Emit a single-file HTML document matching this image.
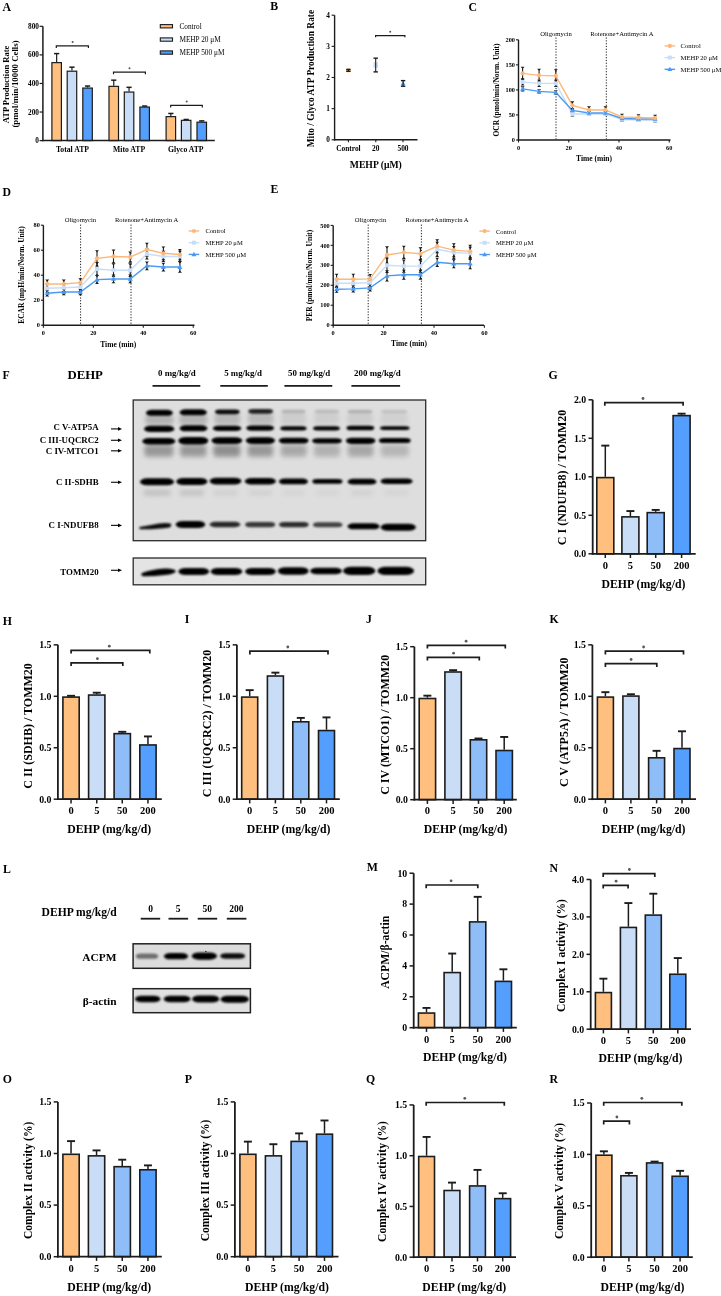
<!DOCTYPE html>
<html><head><meta charset="utf-8"><title>Figure</title>
<style>
html,body{margin:0;padding:0;background:#fff;}
svg{display:block;font-family:"Liberation Serif",serif;filter:blur(0.4px);}
</style></head><body>
<svg width="721" height="1296" viewBox="0 0 721 1296">
<defs>
<filter id="b1" x="-30%" y="-100%" width="160%" height="300%"><feGaussianBlur stdDeviation="0.85"/></filter>
<filter id="b2" x="-30%" y="-100%" width="160%" height="300%"><feGaussianBlur stdDeviation="2"/></filter>
<filter id="b4" x="-30%" y="-100%" width="160%" height="300%"><feGaussianBlur stdDeviation="4"/></filter>
<clipPath id="clipF"><rect x="133.2" y="400" width="292.5" height="140.7"/></clipPath>
<clipPath id="clipT"><rect x="133.2" y="558" width="292.5" height="26.8"/></clipPath>
<clipPath id="clipA"><rect x="133.1" y="943.8" width="117.3" height="24.5"/></clipPath>
<clipPath id="clipB"><rect x="133.1" y="988.7" width="117.3" height="24"/></clipPath>
</defs>
<rect width="721" height="1296" fill="#fff"/>
<text x="2.5" y="10.5" font-size="11.8" font-weight="bold" text-anchor="start" fill="#000">A</text>
<line x1="56.65" y1="62.03" x2="56.65" y2="53.6" stroke="#1c1c1c" stroke-width="1.2"/>
<line x1="54.05" y1="53.6" x2="59.25" y2="53.6" stroke="#1c1c1c" stroke-width="1.5"/>
<rect x="51.9" y="62.63" width="9.5" height="77.97" fill="#FFC07F" stroke="#1c1c1c" stroke-width="1.2"/>
<line x1="71.95" y1="70.6" x2="71.95" y2="67.18" stroke="#1c1c1c" stroke-width="1.2"/>
<line x1="69.35" y1="67.18" x2="74.55" y2="67.18" stroke="#1c1c1c" stroke-width="1.5"/>
<rect x="67.2" y="71.2" width="9.5" height="69.4" fill="#C9DDF7" stroke="#1c1c1c" stroke-width="1.2"/>
<line x1="87.55" y1="87.46" x2="87.55" y2="86.03" stroke="#1c1c1c" stroke-width="1.2"/>
<line x1="84.95" y1="86.03" x2="90.15" y2="86.03" stroke="#1c1c1c" stroke-width="1.5"/>
<rect x="82.8" y="88.06" width="9.5" height="52.54" fill="#549EFE" stroke="#1c1c1c" stroke-width="1.2"/>
<line x1="113.75" y1="85.75" x2="113.75" y2="80.17" stroke="#1c1c1c" stroke-width="1.2"/>
<line x1="111.15" y1="80.17" x2="116.35" y2="80.17" stroke="#1c1c1c" stroke-width="1.5"/>
<rect x="109" y="86.35" width="9.5" height="54.25" fill="#FFC07F" stroke="#1c1c1c" stroke-width="1.2"/>
<line x1="129.05" y1="91.46" x2="129.05" y2="87.32" stroke="#1c1c1c" stroke-width="1.2"/>
<line x1="126.45" y1="87.32" x2="131.65" y2="87.32" stroke="#1c1c1c" stroke-width="1.5"/>
<rect x="124.3" y="92.06" width="9.5" height="48.54" fill="#C9DDF7" stroke="#1c1c1c" stroke-width="1.2"/>
<line x1="144.65" y1="106.46" x2="144.65" y2="106.03" stroke="#1c1c1c" stroke-width="1.2"/>
<line x1="142.05" y1="106.03" x2="147.25" y2="106.03" stroke="#1c1c1c" stroke-width="1.5"/>
<rect x="139.9" y="107.06" width="9.5" height="33.54" fill="#549EFE" stroke="#1c1c1c" stroke-width="1.2"/>
<line x1="170.85" y1="116.03" x2="170.85" y2="113.46" stroke="#1c1c1c" stroke-width="1.2"/>
<line x1="168.25" y1="113.46" x2="173.45" y2="113.46" stroke="#1c1c1c" stroke-width="1.5"/>
<rect x="166.1" y="116.63" width="9.5" height="23.97" fill="#FFC07F" stroke="#1c1c1c" stroke-width="1.2"/>
<line x1="186.15" y1="119.74" x2="186.15" y2="119.46" stroke="#1c1c1c" stroke-width="1.2"/>
<line x1="183.55" y1="119.46" x2="188.75" y2="119.46" stroke="#1c1c1c" stroke-width="1.5"/>
<rect x="181.4" y="120.34" width="9.5" height="20.26" fill="#C9DDF7" stroke="#1c1c1c" stroke-width="1.2"/>
<line x1="201.75" y1="121.6" x2="201.75" y2="120.89" stroke="#1c1c1c" stroke-width="1.2"/>
<line x1="199.15" y1="120.89" x2="204.35" y2="120.89" stroke="#1c1c1c" stroke-width="1.5"/>
<rect x="197" y="122.2" width="9.5" height="18.4" fill="#549EFE" stroke="#1c1c1c" stroke-width="1.2"/>
<line x1="42.9" y1="26.3" x2="42.9" y2="141.3" stroke="#1c1c1c" stroke-width="1.5"/>
<line x1="42.2" y1="140.6" x2="214.8" y2="140.6" stroke="#1c1c1c" stroke-width="1.5"/>
<line x1="39.6" y1="140.6" x2="42.9" y2="140.6" stroke="#1c1c1c" stroke-width="1.2"/>
<text x="39" y="143.1" font-size="7.3" font-weight="bold" text-anchor="end" fill="#000">0</text>
<line x1="39.6" y1="112.03" x2="42.9" y2="112.03" stroke="#1c1c1c" stroke-width="1.2"/>
<text x="39" y="114.53" font-size="7.3" font-weight="bold" text-anchor="end" fill="#000">200</text>
<line x1="39.6" y1="83.46" x2="42.9" y2="83.46" stroke="#1c1c1c" stroke-width="1.2"/>
<text x="39" y="85.96" font-size="7.3" font-weight="bold" text-anchor="end" fill="#000">400</text>
<line x1="39.6" y1="54.89" x2="42.9" y2="54.89" stroke="#1c1c1c" stroke-width="1.2"/>
<text x="39" y="57.39" font-size="7.3" font-weight="bold" text-anchor="end" fill="#000">600</text>
<line x1="39.6" y1="26.32" x2="42.9" y2="26.32" stroke="#1c1c1c" stroke-width="1.2"/>
<text x="39" y="28.82" font-size="7.3" font-weight="bold" text-anchor="end" fill="#000">800</text>
<text x="72.5" y="151.6" font-size="7.7" font-weight="bold" text-anchor="middle" fill="#000">Total ATP</text>
<text x="129.1" y="151.6" font-size="7.7" font-weight="bold" text-anchor="middle" fill="#000">Mito ATP</text>
<text x="185.8" y="151.6" font-size="7.7" font-weight="bold" text-anchor="middle" fill="#000">Glyco ATP</text>
<text transform="translate(8.6,84.5) rotate(-90)" font-size="8.5" font-weight="bold" text-anchor="middle" fill="#000">ATP Production Rate</text>
<text transform="translate(18.3,84) rotate(-90)" font-size="8.8" font-weight="bold" text-anchor="middle" fill="#000">(pmol/min/10000 Cells)</text>
<path d="M56.3 48.1L56.3 45.9L88.4 45.9L88.4 48.1" fill="none" stroke="#1c1c1c" stroke-width="1.2"/>
<circle cx="72.6" cy="42.1" r="1.0" fill="#555"/>
<path d="M113.5 74.3L113.5 72.1L145.4 72.1L145.4 74.3" fill="none" stroke="#1c1c1c" stroke-width="1.2"/>
<circle cx="129.5" cy="68.3" r="1.0" fill="#555"/>
<path d="M170.7 107.6L170.7 105.4L202.3 105.4L202.3 107.6" fill="none" stroke="#1c1c1c" stroke-width="1.2"/>
<circle cx="186.7" cy="101.6" r="1.0" fill="#555"/>
<rect x="160.3" y="24.6" width="12.2" height="3.3" fill="#FFC07F" stroke="#1c1c1c" stroke-width="1.1"/>
<text x="179.4" y="28.7" font-size="7.3" font-weight="normal" text-anchor="start" fill="#000">Control</text>
<rect x="160.3" y="37.9" width="12.2" height="3.3" fill="#C9DDF7" stroke="#1c1c1c" stroke-width="1.1"/>
<text x="179.4" y="42" font-size="7.3" font-weight="normal" text-anchor="start" fill="#000">MEHP 20 μM</text>
<rect x="160.3" y="50.9" width="12.2" height="3.3" fill="#549EFE" stroke="#1c1c1c" stroke-width="1.1"/>
<text x="179.4" y="55" font-size="7.3" font-weight="normal" text-anchor="start" fill="#000">MEHP 500 μM</text>
<text x="270.2" y="10.3" font-size="11.8" font-weight="bold" text-anchor="start" fill="#000">B</text>
<line x1="334.6" y1="15.2" x2="334.6" y2="140.5" stroke="#1c1c1c" stroke-width="1.4"/>
<line x1="333.9" y1="139.8" x2="417.5" y2="139.8" stroke="#1c1c1c" stroke-width="1.4"/>
<line x1="331.6" y1="139.8" x2="334.6" y2="139.8" stroke="#1c1c1c" stroke-width="1.1"/>
<text x="329.8" y="142.3" font-size="7.3" font-weight="bold" text-anchor="end" fill="#000">0</text>
<line x1="331.6" y1="108.65" x2="334.6" y2="108.65" stroke="#1c1c1c" stroke-width="1.1"/>
<text x="329.8" y="111.15" font-size="7.3" font-weight="bold" text-anchor="end" fill="#000">1</text>
<line x1="331.6" y1="77.5" x2="334.6" y2="77.5" stroke="#1c1c1c" stroke-width="1.1"/>
<text x="329.8" y="80" font-size="7.3" font-weight="bold" text-anchor="end" fill="#000">2</text>
<line x1="331.6" y1="46.35" x2="334.6" y2="46.35" stroke="#1c1c1c" stroke-width="1.1"/>
<text x="329.8" y="48.85" font-size="7.3" font-weight="bold" text-anchor="end" fill="#000">3</text>
<line x1="331.6" y1="15.2" x2="334.6" y2="15.2" stroke="#1c1c1c" stroke-width="1.1"/>
<text x="329.8" y="17.7" font-size="7.3" font-weight="bold" text-anchor="end" fill="#000">4</text>
<line x1="348.4" y1="139.8" x2="348.4" y2="142.3" stroke="#1c1c1c" stroke-width="1.1"/>
<text x="348.4" y="151.4" font-size="7.4" font-weight="bold" text-anchor="middle" fill="#000">Control</text>
<line x1="375.8" y1="139.8" x2="375.8" y2="142.3" stroke="#1c1c1c" stroke-width="1.1"/>
<text x="375.8" y="151.4" font-size="7.4" font-weight="bold" text-anchor="middle" fill="#000">20</text>
<line x1="403" y1="139.8" x2="403" y2="142.3" stroke="#1c1c1c" stroke-width="1.1"/>
<text x="403" y="151.4" font-size="7.4" font-weight="bold" text-anchor="middle" fill="#000">500</text>
<text x="375.8" y="167.6" font-size="9.7" font-weight="bold" text-anchor="middle" fill="#000">MEHP (μM)</text>
<text transform="translate(313.8,78.6) rotate(-90)" font-size="9.4" font-weight="bold" text-anchor="middle" fill="#000">Mito / Glyco ATP Production Rate</text>
<circle cx="348.4" cy="70.34" r="2.2" fill="#FFC07F"/>
<line x1="348.4" y1="69.4" x2="348.4" y2="71.27" stroke="#1c1c1c" stroke-width="1.1"/>
<line x1="346.2" y1="69.4" x2="350.6" y2="69.4" stroke="#1c1c1c" stroke-width="1.4"/>
<line x1="346.2" y1="71.27" x2="350.6" y2="71.27" stroke="#1c1c1c" stroke-width="1.4"/>
<rect x="373.4" y="62.44" width="4.6" height="5.2" fill="#C9DDF7"/>
<line x1="375.7" y1="58.19" x2="375.7" y2="71.89" stroke="#1c1c1c" stroke-width="1.1"/>
<line x1="373.5" y1="58.19" x2="377.9" y2="58.19" stroke="#1c1c1c" stroke-width="1.4"/>
<line x1="373.5" y1="71.89" x2="377.9" y2="71.89" stroke="#1c1c1c" stroke-width="1.4"/>
<path d="M403.1 81.12L405.5 85.22L400.7 85.22Z" fill="#549EFE"/>
<line x1="403.1" y1="80.62" x2="403.1" y2="86.22" stroke="#1c1c1c" stroke-width="1.1"/>
<line x1="400.9" y1="80.62" x2="405.3" y2="80.62" stroke="#1c1c1c" stroke-width="1.4"/>
<line x1="400.9" y1="86.22" x2="405.3" y2="86.22" stroke="#1c1c1c" stroke-width="1.4"/>
<path d="M375.6 37.2L375.6 35.6L404.9 35.6L404.9 37.2" fill="none" stroke="#1c1c1c" stroke-width="1.2"/>
<circle cx="390.2" cy="31.8" r="1.0" fill="#555"/>
<text x="468.6" y="10.8" font-size="11.8" font-weight="bold" text-anchor="start" fill="#000">C</text>
<line x1="556" y1="37.5" x2="556" y2="140" stroke="#1c1c1c" stroke-width="1" stroke-dasharray="1.2 1.6"/>
<line x1="606.3" y1="37.5" x2="606.3" y2="140" stroke="#1c1c1c" stroke-width="1" stroke-dasharray="1.2 1.6"/>
<polyline points="522.6,81.88 539.1,83.39 555.8,83.39 572.4,113.95 589,113.95 605.5,113.95 622,119.46 638.5,119.96 655.1,120.46" fill="none" stroke="#C8DEF8" stroke-width="1.4"/>
<polyline points="522.6,88.9 539.1,91.4 555.8,92.41 572.4,110.44 589,112.95 605.5,112.95 622,118.46 638.5,118.96 655.1,118.96" fill="none" stroke="#4A9AF5" stroke-width="1.4"/>
<polyline points="522.6,73.37 539.1,75.37 555.8,75.87 572.4,105.43 589,109.94 605.5,109.94 622,116.95 638.5,117.45 655.1,117.96" fill="none" stroke="#FDB878" stroke-width="1.4"/>
<line x1="522.6" y1="78.88" x2="522.6" y2="84.89" stroke="#1c1c1c" stroke-width="1.1"/>
<path d="M520.6 78.28L524.6 78.28L522.6 80.38ZM520.6 85.49L524.6 85.49L522.6 83.39Z" fill="#1c1c1c"/>
<line x1="539.1" y1="80.38" x2="539.1" y2="86.39" stroke="#1c1c1c" stroke-width="1.1"/>
<path d="M537.1 79.78L541.1 79.78L539.1 81.88ZM537.1 86.99L541.1 86.99L539.1 84.89Z" fill="#1c1c1c"/>
<line x1="555.8" y1="80.38" x2="555.8" y2="86.39" stroke="#1c1c1c" stroke-width="1.1"/>
<path d="M553.8 79.78L557.8 79.78L555.8 81.88ZM553.8 86.99L557.8 86.99L555.8 84.89Z" fill="#1c1c1c"/>
<line x1="572.4" y1="111.94" x2="572.4" y2="115.95" stroke="#1c1c1c" stroke-width="1.1"/>
<path d="M570.4 111.34L574.4 111.34L572.4 113.44ZM570.4 116.55L574.4 116.55L572.4 114.45Z" fill="#1c1c1c"/>
<line x1="589" y1="112.44" x2="589" y2="115.45" stroke="#1c1c1c" stroke-width="1.1"/>
<path d="M587 111.84L591 111.84L589 113.94ZM587 116.05L591 116.05L589 113.95Z" fill="#1c1c1c"/>
<line x1="605.5" y1="112.44" x2="605.5" y2="115.45" stroke="#1c1c1c" stroke-width="1.1"/>
<path d="M603.5 111.84L607.5 111.84L605.5 113.94ZM603.5 116.05L607.5 116.05L605.5 113.95Z" fill="#1c1c1c"/>
<line x1="622" y1="117.96" x2="622" y2="120.96" stroke="#1c1c1c" stroke-width="1.1"/>
<path d="M620 117.36L624 117.36L622 119.46ZM620 121.56L624 121.56L622 119.46Z" fill="#1c1c1c"/>
<line x1="638.5" y1="118.46" x2="638.5" y2="121.46" stroke="#1c1c1c" stroke-width="1.1"/>
<path d="M636.5 117.86L640.5 117.86L638.5 119.96ZM636.5 122.06L640.5 122.06L638.5 119.96Z" fill="#1c1c1c"/>
<line x1="655.1" y1="118.96" x2="655.1" y2="121.96" stroke="#1c1c1c" stroke-width="1.1"/>
<path d="M653.1 118.36L657.1 118.36L655.1 120.46ZM653.1 122.56L657.1 122.56L655.1 120.46Z" fill="#1c1c1c"/>
<line x1="522.6" y1="86.89" x2="522.6" y2="90.9" stroke="#1c1c1c" stroke-width="1.1"/>
<path d="M520.6 86.29L524.6 86.29L522.6 88.39ZM520.6 91.5L524.6 91.5L522.6 89.4Z" fill="#1c1c1c"/>
<line x1="539.1" y1="89.9" x2="539.1" y2="92.91" stroke="#1c1c1c" stroke-width="1.1"/>
<path d="M537.1 89.3L541.1 89.3L539.1 91.4ZM537.1 93.51L541.1 93.51L539.1 91.41Z" fill="#1c1c1c"/>
<line x1="555.8" y1="90.9" x2="555.8" y2="93.91" stroke="#1c1c1c" stroke-width="1.1"/>
<path d="M553.8 90.3L557.8 90.3L555.8 92.4ZM553.8 94.51L557.8 94.51L555.8 92.41Z" fill="#1c1c1c"/>
<line x1="572.4" y1="108.94" x2="572.4" y2="111.94" stroke="#1c1c1c" stroke-width="1.1"/>
<path d="M570.4 108.34L574.4 108.34L572.4 110.44ZM570.4 112.54L574.4 112.54L572.4 110.44Z" fill="#1c1c1c"/>
<line x1="589" y1="111.94" x2="589" y2="113.95" stroke="#1c1c1c" stroke-width="1.1"/>
<path d="M587 111.34L591 111.34L589 113.44ZM587 114.55L591 114.55L589 112.45Z" fill="#1c1c1c"/>
<line x1="605.5" y1="111.94" x2="605.5" y2="113.95" stroke="#1c1c1c" stroke-width="1.1"/>
<path d="M603.5 111.34L607.5 111.34L605.5 113.44ZM603.5 114.55L607.5 114.55L605.5 112.45Z" fill="#1c1c1c"/>
<line x1="622" y1="117.45" x2="622" y2="119.46" stroke="#1c1c1c" stroke-width="1.1"/>
<path d="M620 116.86L624 116.86L622 118.95ZM620 120.06L624 120.06L622 117.96Z" fill="#1c1c1c"/>
<line x1="638.5" y1="117.96" x2="638.5" y2="119.96" stroke="#1c1c1c" stroke-width="1.1"/>
<path d="M636.5 117.36L640.5 117.36L638.5 119.46ZM636.5 120.56L640.5 120.56L638.5 118.46Z" fill="#1c1c1c"/>
<line x1="655.1" y1="117.96" x2="655.1" y2="119.96" stroke="#1c1c1c" stroke-width="1.1"/>
<path d="M653.1 117.36L657.1 117.36L655.1 119.46ZM653.1 120.56L657.1 120.56L655.1 118.46Z" fill="#1c1c1c"/>
<line x1="522.6" y1="67.36" x2="522.6" y2="79.38" stroke="#1c1c1c" stroke-width="1.1"/>
<path d="M520.6 66.76L524.6 66.76L522.6 68.86ZM520.6 79.98L524.6 79.98L522.6 77.88Z" fill="#1c1c1c"/>
<line x1="539.1" y1="69.36" x2="539.1" y2="81.38" stroke="#1c1c1c" stroke-width="1.1"/>
<path d="M537.1 68.76L541.1 68.76L539.1 70.86ZM537.1 81.98L541.1 81.98L539.1 79.88Z" fill="#1c1c1c"/>
<line x1="555.8" y1="69.86" x2="555.8" y2="81.88" stroke="#1c1c1c" stroke-width="1.1"/>
<path d="M553.8 69.26L557.8 69.26L555.8 71.36ZM553.8 82.48L557.8 82.48L555.8 80.38Z" fill="#1c1c1c"/>
<line x1="572.4" y1="101.92" x2="572.4" y2="108.94" stroke="#1c1c1c" stroke-width="1.1"/>
<path d="M570.4 101.32L574.4 101.32L572.4 103.42ZM570.4 109.54L574.4 109.54L572.4 107.44Z" fill="#1c1c1c"/>
<line x1="589" y1="106.93" x2="589" y2="112.95" stroke="#1c1c1c" stroke-width="1.1"/>
<path d="M587 106.33L591 106.33L589 108.43ZM587 113.55L591 113.55L589 111.45Z" fill="#1c1c1c"/>
<line x1="605.5" y1="106.93" x2="605.5" y2="112.95" stroke="#1c1c1c" stroke-width="1.1"/>
<path d="M603.5 106.33L607.5 106.33L605.5 108.43ZM603.5 113.55L607.5 113.55L605.5 111.45Z" fill="#1c1c1c"/>
<line x1="622" y1="114.45" x2="622" y2="119.46" stroke="#1c1c1c" stroke-width="1.1"/>
<path d="M620 113.85L624 113.85L622 115.95ZM620 120.06L624 120.06L622 117.96Z" fill="#1c1c1c"/>
<line x1="638.5" y1="114.95" x2="638.5" y2="119.96" stroke="#1c1c1c" stroke-width="1.1"/>
<path d="M636.5 114.35L640.5 114.35L638.5 116.45ZM636.5 120.56L640.5 120.56L638.5 118.46Z" fill="#1c1c1c"/>
<line x1="655.1" y1="115.45" x2="655.1" y2="120.46" stroke="#1c1c1c" stroke-width="1.1"/>
<path d="M653.1 114.85L657.1 114.85L655.1 116.95ZM653.1 121.06L657.1 121.06L655.1 118.96Z" fill="#1c1c1c"/>
<rect x="520.6" y="79.88" width="4" height="4" fill="#C8DEF8"/>
<rect x="537.1" y="81.39" width="4" height="4" fill="#C8DEF8"/>
<rect x="553.8" y="81.39" width="4" height="4" fill="#C8DEF8"/>
<rect x="570.4" y="111.95" width="4" height="4" fill="#C8DEF8"/>
<rect x="587" y="111.95" width="4" height="4" fill="#C8DEF8"/>
<rect x="603.5" y="111.95" width="4" height="4" fill="#C8DEF8"/>
<rect x="620" y="117.46" width="4" height="4" fill="#C8DEF8"/>
<rect x="636.5" y="117.96" width="4" height="4" fill="#C8DEF8"/>
<rect x="653.1" y="118.46" width="4" height="4" fill="#C8DEF8"/>
<path d="M522.6 86.3L525.1 90.7L520.1 90.7Z" fill="#4A9AF5"/>
<path d="M539.1 88.8L541.6 93.2L536.6 93.2Z" fill="#4A9AF5"/>
<path d="M555.8 89.81L558.3 94.2L553.3 94.2Z" fill="#4A9AF5"/>
<path d="M572.4 107.84L574.9 112.24L569.9 112.24Z" fill="#4A9AF5"/>
<path d="M589 110.35L591.5 114.75L586.5 114.75Z" fill="#4A9AF5"/>
<path d="M605.5 110.35L608 114.75L603 114.75Z" fill="#4A9AF5"/>
<path d="M622 115.86L624.5 120.26L619.5 120.26Z" fill="#4A9AF5"/>
<path d="M638.5 116.36L641 120.76L636 120.76Z" fill="#4A9AF5"/>
<path d="M655.1 116.36L657.6 120.76L652.6 120.76Z" fill="#4A9AF5"/>
<circle cx="522.6" cy="73.37" r="2.1" fill="#FDB878"/>
<circle cx="539.1" cy="75.37" r="2.1" fill="#FDB878"/>
<circle cx="555.8" cy="75.87" r="2.1" fill="#FDB878"/>
<circle cx="572.4" cy="105.43" r="2.1" fill="#FDB878"/>
<circle cx="589" cy="109.94" r="2.1" fill="#FDB878"/>
<circle cx="605.5" cy="109.94" r="2.1" fill="#FDB878"/>
<circle cx="622" cy="116.95" r="2.1" fill="#FDB878"/>
<circle cx="638.5" cy="117.45" r="2.1" fill="#FDB878"/>
<circle cx="655.1" cy="117.96" r="2.1" fill="#FDB878"/>
<line x1="518.5" y1="39.8" x2="518.5" y2="140.7" stroke="#1c1c1c" stroke-width="1.4"/>
<line x1="517.8" y1="140" x2="670.5" y2="140" stroke="#1c1c1c" stroke-width="1.4"/>
<line x1="516" y1="140" x2="518.5" y2="140" stroke="#1c1c1c" stroke-width="1.1"/>
<text x="515" y="142.14" font-size="6.3" font-weight="bold" text-anchor="end" fill="#000">0</text>
<line x1="516" y1="114.95" x2="518.5" y2="114.95" stroke="#1c1c1c" stroke-width="1.1"/>
<text x="515" y="117.09" font-size="6.3" font-weight="bold" text-anchor="end" fill="#000">50</text>
<line x1="516" y1="89.9" x2="518.5" y2="89.9" stroke="#1c1c1c" stroke-width="1.1"/>
<text x="515" y="92.04" font-size="6.3" font-weight="bold" text-anchor="end" fill="#000">100</text>
<line x1="516" y1="64.85" x2="518.5" y2="64.85" stroke="#1c1c1c" stroke-width="1.1"/>
<text x="515" y="66.99" font-size="6.3" font-weight="bold" text-anchor="end" fill="#000">150</text>
<line x1="516" y1="39.8" x2="518.5" y2="39.8" stroke="#1c1c1c" stroke-width="1.1"/>
<text x="515" y="41.94" font-size="6.3" font-weight="bold" text-anchor="end" fill="#000">200</text>
<line x1="518.5" y1="140" x2="518.5" y2="142.5" stroke="#1c1c1c" stroke-width="1.1"/>
<text x="518.5" y="149.8" font-size="6.3" font-weight="bold" text-anchor="middle" fill="#000">0</text>
<line x1="568.75" y1="140" x2="568.75" y2="142.5" stroke="#1c1c1c" stroke-width="1.1"/>
<text x="568.75" y="149.8" font-size="6.3" font-weight="bold" text-anchor="middle" fill="#000">20</text>
<line x1="619" y1="140" x2="619" y2="142.5" stroke="#1c1c1c" stroke-width="1.1"/>
<text x="619" y="149.8" font-size="6.3" font-weight="bold" text-anchor="middle" fill="#000">40</text>
<line x1="669.25" y1="140" x2="669.25" y2="142.5" stroke="#1c1c1c" stroke-width="1.1"/>
<text x="669.25" y="149.8" font-size="6.3" font-weight="bold" text-anchor="middle" fill="#000">60</text>
<text x="594" y="161.3" font-size="7.5" font-weight="bold" text-anchor="middle" fill="#000">Time (min)</text>
<text transform="translate(498.6,90) rotate(-90)" font-size="7.5" font-weight="bold" text-anchor="middle" fill="#000">OCR (pmol/min/Norm. Unit)</text>
<line x1="664.6" y1="45.9" x2="675.1" y2="45.9" stroke="#FDB878" stroke-width="1.4"/>
<circle cx="669.85" cy="45.9" r="2.1" fill="#FDB878"/>
<text x="680.6" y="48.3" font-size="6.6" font-weight="normal" text-anchor="start" fill="#000">Control</text>
<line x1="664.6" y1="57.6" x2="675.1" y2="57.6" stroke="#C8DEF8" stroke-width="1.4"/>
<rect x="667.85" y="55.6" width="4" height="4" fill="#C8DEF8"/>
<text x="680.6" y="60" font-size="6.6" font-weight="normal" text-anchor="start" fill="#000">MEHP 20 μM</text>
<line x1="664.6" y1="69.3" x2="675.1" y2="69.3" stroke="#4A9AF5" stroke-width="1.4"/>
<path d="M669.85 66.7L672.35 71.1L667.35 71.1Z" fill="#4A9AF5"/>
<text x="680.6" y="71.7" font-size="6.6" font-weight="normal" text-anchor="start" fill="#000">MEHP 500 μM</text>
<text x="556" y="35.6" font-size="6.6" font-weight="normal" text-anchor="middle" fill="#000">Oligomycin</text>
<text x="621.8" y="35.6" font-size="6.6" font-weight="normal" text-anchor="middle" fill="#000">Rotenone+Antimycin A</text>
<text x="2.5" y="196" font-size="11.8" font-weight="bold" text-anchor="start" fill="#000">D</text>
<line x1="80.6" y1="224.6" x2="80.6" y2="325.2" stroke="#1c1c1c" stroke-width="1" stroke-dasharray="1.2 1.6"/>
<line x1="131" y1="224.6" x2="131" y2="325.2" stroke="#1c1c1c" stroke-width="1" stroke-dasharray="1.2 1.6"/>
<polyline points="47.2,288.32 63.8,287.7 80.4,287.07 97,268.95 113.5,270.2 130.2,270.2 146.9,253.95 163.4,256.45 179.9,256.45" fill="none" stroke="#C8DEF8" stroke-width="1.4"/>
<polyline points="47.2,293.32 63.8,292.07 80.4,292.07 97,279.57 113.5,278.95 130.2,278.95 146.9,265.82 163.4,267.07 179.9,267.07" fill="none" stroke="#4A9AF5" stroke-width="1.4"/>
<polyline points="47.2,283.95 63.8,283.95 80.4,282.7 97,258.32 113.5,256.45 130.2,257.07 146.9,249.57 163.4,253.32 179.9,254.57" fill="none" stroke="#FDB878" stroke-width="1.4"/>
<line x1="47.2" y1="284.57" x2="47.2" y2="292.07" stroke="#1c1c1c" stroke-width="1.1"/>
<path d="M45.2 283.97L49.2 283.97L47.2 286.07ZM45.2 292.68L49.2 292.68L47.2 290.57Z" fill="#1c1c1c"/>
<line x1="63.8" y1="283.95" x2="63.8" y2="291.45" stroke="#1c1c1c" stroke-width="1.1"/>
<path d="M61.8 283.35L65.8 283.35L63.8 285.45ZM61.8 292.05L65.8 292.05L63.8 289.95Z" fill="#1c1c1c"/>
<line x1="80.4" y1="283.32" x2="80.4" y2="290.82" stroke="#1c1c1c" stroke-width="1.1"/>
<path d="M78.4 282.72L82.4 282.72L80.4 284.82ZM78.4 291.43L82.4 291.43L80.4 289.32Z" fill="#1c1c1c"/>
<line x1="97" y1="262.7" x2="97" y2="275.2" stroke="#1c1c1c" stroke-width="1.1"/>
<path d="M95 262.1L99 262.1L97 264.2ZM95 275.8L99 275.8L97 273.7Z" fill="#1c1c1c"/>
<line x1="113.5" y1="263.95" x2="113.5" y2="276.45" stroke="#1c1c1c" stroke-width="1.1"/>
<path d="M111.5 263.35L115.5 263.35L113.5 265.45ZM111.5 277.05L115.5 277.05L113.5 274.95Z" fill="#1c1c1c"/>
<line x1="130.2" y1="263.95" x2="130.2" y2="276.45" stroke="#1c1c1c" stroke-width="1.1"/>
<path d="M128.2 263.35L132.2 263.35L130.2 265.45ZM128.2 277.05L132.2 277.05L130.2 274.95Z" fill="#1c1c1c"/>
<line x1="146.9" y1="248.95" x2="146.9" y2="258.95" stroke="#1c1c1c" stroke-width="1.1"/>
<path d="M144.9 248.35L148.9 248.35L146.9 250.45ZM144.9 259.55L148.9 259.55L146.9 257.45Z" fill="#1c1c1c"/>
<line x1="163.4" y1="251.45" x2="163.4" y2="261.45" stroke="#1c1c1c" stroke-width="1.1"/>
<path d="M161.4 250.85L165.4 250.85L163.4 252.95ZM161.4 262.05L165.4 262.05L163.4 259.95Z" fill="#1c1c1c"/>
<line x1="179.9" y1="251.45" x2="179.9" y2="261.45" stroke="#1c1c1c" stroke-width="1.1"/>
<path d="M177.9 250.85L181.9 250.85L179.9 252.95ZM177.9 262.05L181.9 262.05L179.9 259.95Z" fill="#1c1c1c"/>
<line x1="47.2" y1="290.82" x2="47.2" y2="295.82" stroke="#1c1c1c" stroke-width="1.1"/>
<path d="M45.2 290.22L49.2 290.22L47.2 292.32ZM45.2 296.43L49.2 296.43L47.2 294.32Z" fill="#1c1c1c"/>
<line x1="63.8" y1="289.57" x2="63.8" y2="294.57" stroke="#1c1c1c" stroke-width="1.1"/>
<path d="M61.8 288.97L65.8 288.97L63.8 291.07ZM61.8 295.18L65.8 295.18L63.8 293.07Z" fill="#1c1c1c"/>
<line x1="80.4" y1="289.57" x2="80.4" y2="294.57" stroke="#1c1c1c" stroke-width="1.1"/>
<path d="M78.4 288.97L82.4 288.97L80.4 291.07ZM78.4 295.18L82.4 295.18L80.4 293.07Z" fill="#1c1c1c"/>
<line x1="97" y1="275.82" x2="97" y2="283.32" stroke="#1c1c1c" stroke-width="1.1"/>
<path d="M95 275.22L99 275.22L97 277.32ZM95 283.93L99 283.93L97 281.82Z" fill="#1c1c1c"/>
<line x1="113.5" y1="275.2" x2="113.5" y2="282.7" stroke="#1c1c1c" stroke-width="1.1"/>
<path d="M111.5 274.6L115.5 274.6L113.5 276.7ZM111.5 283.3L115.5 283.3L113.5 281.2Z" fill="#1c1c1c"/>
<line x1="130.2" y1="275.2" x2="130.2" y2="282.7" stroke="#1c1c1c" stroke-width="1.1"/>
<path d="M128.2 274.6L132.2 274.6L130.2 276.7ZM128.2 283.3L132.2 283.3L130.2 281.2Z" fill="#1c1c1c"/>
<line x1="146.9" y1="262.07" x2="146.9" y2="269.57" stroke="#1c1c1c" stroke-width="1.1"/>
<path d="M144.9 261.47L148.9 261.47L146.9 263.57ZM144.9 270.18L148.9 270.18L146.9 268.07Z" fill="#1c1c1c"/>
<line x1="163.4" y1="263.32" x2="163.4" y2="270.82" stroke="#1c1c1c" stroke-width="1.1"/>
<path d="M161.4 262.72L165.4 262.72L163.4 264.82ZM161.4 271.43L165.4 271.43L163.4 269.32Z" fill="#1c1c1c"/>
<line x1="179.9" y1="262.07" x2="179.9" y2="272.07" stroke="#1c1c1c" stroke-width="1.1"/>
<path d="M177.9 261.47L181.9 261.47L179.9 263.57ZM177.9 272.68L181.9 272.68L179.9 270.57Z" fill="#1c1c1c"/>
<line x1="47.2" y1="280.2" x2="47.2" y2="287.7" stroke="#1c1c1c" stroke-width="1.1"/>
<path d="M45.2 279.6L49.2 279.6L47.2 281.7ZM45.2 288.3L49.2 288.3L47.2 286.2Z" fill="#1c1c1c"/>
<line x1="63.8" y1="280.2" x2="63.8" y2="287.7" stroke="#1c1c1c" stroke-width="1.1"/>
<path d="M61.8 279.6L65.8 279.6L63.8 281.7ZM61.8 288.3L65.8 288.3L63.8 286.2Z" fill="#1c1c1c"/>
<line x1="80.4" y1="278.95" x2="80.4" y2="286.45" stroke="#1c1c1c" stroke-width="1.1"/>
<path d="M78.4 278.35L82.4 278.35L80.4 280.45ZM78.4 287.05L82.4 287.05L80.4 284.95Z" fill="#1c1c1c"/>
<line x1="97" y1="250.82" x2="97" y2="265.82" stroke="#1c1c1c" stroke-width="1.1"/>
<path d="M95 250.22L99 250.22L97 252.32ZM95 266.43L99 266.43L97 264.32Z" fill="#1c1c1c"/>
<line x1="113.5" y1="250.2" x2="113.5" y2="262.7" stroke="#1c1c1c" stroke-width="1.1"/>
<path d="M111.5 249.6L115.5 249.6L113.5 251.7ZM111.5 263.3L115.5 263.3L113.5 261.2Z" fill="#1c1c1c"/>
<line x1="130.2" y1="252.07" x2="130.2" y2="262.07" stroke="#1c1c1c" stroke-width="1.1"/>
<path d="M128.2 251.47L132.2 251.47L130.2 253.57ZM128.2 262.68L132.2 262.68L130.2 260.57Z" fill="#1c1c1c"/>
<line x1="146.9" y1="243.32" x2="146.9" y2="255.82" stroke="#1c1c1c" stroke-width="1.1"/>
<path d="M144.9 242.72L148.9 242.72L146.9 244.82ZM144.9 256.43L148.9 256.43L146.9 254.32Z" fill="#1c1c1c"/>
<line x1="163.4" y1="247.07" x2="163.4" y2="259.57" stroke="#1c1c1c" stroke-width="1.1"/>
<path d="M161.4 246.47L165.4 246.47L163.4 248.57ZM161.4 260.18L165.4 260.18L163.4 258.07Z" fill="#1c1c1c"/>
<line x1="179.9" y1="249.57" x2="179.9" y2="259.57" stroke="#1c1c1c" stroke-width="1.1"/>
<path d="M177.9 248.97L181.9 248.97L179.9 251.07ZM177.9 260.18L181.9 260.18L179.9 258.07Z" fill="#1c1c1c"/>
<rect x="45.2" y="286.32" width="4" height="4" fill="#C8DEF8"/>
<rect x="61.8" y="285.7" width="4" height="4" fill="#C8DEF8"/>
<rect x="78.4" y="285.07" width="4" height="4" fill="#C8DEF8"/>
<rect x="95" y="266.95" width="4" height="4" fill="#C8DEF8"/>
<rect x="111.5" y="268.2" width="4" height="4" fill="#C8DEF8"/>
<rect x="128.2" y="268.2" width="4" height="4" fill="#C8DEF8"/>
<rect x="144.9" y="251.95" width="4" height="4" fill="#C8DEF8"/>
<rect x="161.4" y="254.45" width="4" height="4" fill="#C8DEF8"/>
<rect x="177.9" y="254.45" width="4" height="4" fill="#C8DEF8"/>
<path d="M47.2 290.72L49.7 295.12L44.7 295.12Z" fill="#4A9AF5"/>
<path d="M63.8 289.47L66.3 293.88L61.3 293.88Z" fill="#4A9AF5"/>
<path d="M80.4 289.47L82.9 293.88L77.9 293.88Z" fill="#4A9AF5"/>
<path d="M97 276.97L99.5 281.38L94.5 281.38Z" fill="#4A9AF5"/>
<path d="M113.5 276.35L116 280.75L111 280.75Z" fill="#4A9AF5"/>
<path d="M130.2 276.35L132.7 280.75L127.7 280.75Z" fill="#4A9AF5"/>
<path d="M146.9 263.22L149.4 267.62L144.4 267.62Z" fill="#4A9AF5"/>
<path d="M163.4 264.47L165.9 268.88L160.9 268.88Z" fill="#4A9AF5"/>
<path d="M179.9 264.47L182.4 268.88L177.4 268.88Z" fill="#4A9AF5"/>
<circle cx="47.2" cy="283.95" r="2.1" fill="#FDB878"/>
<circle cx="63.8" cy="283.95" r="2.1" fill="#FDB878"/>
<circle cx="80.4" cy="282.7" r="2.1" fill="#FDB878"/>
<circle cx="97" cy="258.32" r="2.1" fill="#FDB878"/>
<circle cx="113.5" cy="256.45" r="2.1" fill="#FDB878"/>
<circle cx="130.2" cy="257.07" r="2.1" fill="#FDB878"/>
<circle cx="146.9" cy="249.57" r="2.1" fill="#FDB878"/>
<circle cx="163.4" cy="253.32" r="2.1" fill="#FDB878"/>
<circle cx="179.9" cy="254.57" r="2.1" fill="#FDB878"/>
<line x1="43.4" y1="225.2" x2="43.4" y2="325.9" stroke="#1c1c1c" stroke-width="1.4"/>
<line x1="42.7" y1="325.2" x2="194.5" y2="325.2" stroke="#1c1c1c" stroke-width="1.4"/>
<line x1="40.9" y1="325.2" x2="43.4" y2="325.2" stroke="#1c1c1c" stroke-width="1.1"/>
<text x="39.9" y="327.34" font-size="6.3" font-weight="bold" text-anchor="end" fill="#000">0</text>
<line x1="40.9" y1="300.2" x2="43.4" y2="300.2" stroke="#1c1c1c" stroke-width="1.1"/>
<text x="39.9" y="302.34" font-size="6.3" font-weight="bold" text-anchor="end" fill="#000">20</text>
<line x1="40.9" y1="275.2" x2="43.4" y2="275.2" stroke="#1c1c1c" stroke-width="1.1"/>
<text x="39.9" y="277.34" font-size="6.3" font-weight="bold" text-anchor="end" fill="#000">40</text>
<line x1="40.9" y1="250.2" x2="43.4" y2="250.2" stroke="#1c1c1c" stroke-width="1.1"/>
<text x="39.9" y="252.34" font-size="6.3" font-weight="bold" text-anchor="end" fill="#000">60</text>
<line x1="40.9" y1="225.2" x2="43.4" y2="225.2" stroke="#1c1c1c" stroke-width="1.1"/>
<text x="39.9" y="227.34" font-size="6.3" font-weight="bold" text-anchor="end" fill="#000">80</text>
<line x1="43.4" y1="325.2" x2="43.4" y2="327.7" stroke="#1c1c1c" stroke-width="1.1"/>
<text x="43.4" y="335" font-size="6.3" font-weight="bold" text-anchor="middle" fill="#000">0</text>
<line x1="93.35" y1="325.2" x2="93.35" y2="327.7" stroke="#1c1c1c" stroke-width="1.1"/>
<text x="93.35" y="335" font-size="6.3" font-weight="bold" text-anchor="middle" fill="#000">20</text>
<line x1="143.3" y1="325.2" x2="143.3" y2="327.7" stroke="#1c1c1c" stroke-width="1.1"/>
<text x="143.3" y="335" font-size="6.3" font-weight="bold" text-anchor="middle" fill="#000">40</text>
<line x1="193.25" y1="325.2" x2="193.25" y2="327.7" stroke="#1c1c1c" stroke-width="1.1"/>
<text x="193.25" y="335" font-size="6.3" font-weight="bold" text-anchor="middle" fill="#000">60</text>
<text x="118.2" y="347" font-size="7.5" font-weight="bold" text-anchor="middle" fill="#000">Time (min)</text>
<text transform="translate(24.4,275) rotate(-90)" font-size="7.5" font-weight="bold" text-anchor="middle" fill="#000">ECAR (mpH/min/Norm. Unit)</text>
<line x1="188.7" y1="231" x2="199.2" y2="231" stroke="#FDB878" stroke-width="1.4"/>
<circle cx="193.95" cy="231" r="2.1" fill="#FDB878"/>
<text x="205.4" y="233.4" font-size="6.6" font-weight="normal" text-anchor="start" fill="#000">Control</text>
<line x1="188.7" y1="242.7" x2="199.2" y2="242.7" stroke="#C8DEF8" stroke-width="1.4"/>
<rect x="191.95" y="240.7" width="4" height="4" fill="#C8DEF8"/>
<text x="205.4" y="245.1" font-size="6.6" font-weight="normal" text-anchor="start" fill="#000">MEHP 20 μM</text>
<line x1="188.7" y1="254.4" x2="199.2" y2="254.4" stroke="#4A9AF5" stroke-width="1.4"/>
<path d="M193.95 251.8L196.45 256.2L191.45 256.2Z" fill="#4A9AF5"/>
<text x="205.4" y="256.8" font-size="6.6" font-weight="normal" text-anchor="start" fill="#000">MEHP 500 μM</text>
<text x="80.4" y="222.3" font-size="6.6" font-weight="normal" text-anchor="middle" fill="#000">Oligomycin</text>
<text x="146.6" y="221.6" font-size="6.6" font-weight="normal" text-anchor="middle" fill="#000">Rotenone+Antimycin A</text>
<text x="270.4" y="193.3" font-size="11.8" font-weight="bold" text-anchor="start" fill="#000">E</text>
<line x1="368.2" y1="224.6" x2="368.2" y2="325.2" stroke="#1c1c1c" stroke-width="1" stroke-dasharray="1.2 1.6"/>
<line x1="421.4" y1="224.6" x2="421.4" y2="325.2" stroke="#1c1c1c" stroke-width="1" stroke-dasharray="1.2 1.6"/>
<polyline points="336.6,283.28 353.3,283.28 370.1,282.69 387,265.32 403.8,266.12 420.4,266.12 437.2,249.35 453.8,252.55 470.2,253.34" fill="none" stroke="#C8DEF8" stroke-width="1.4"/>
<polyline points="336.6,289.27 353.3,288.87 370.1,287.87 387,275.9 403.8,274.7 420.4,274.7 437.2,262.33 453.8,263.72 470.2,263.72" fill="none" stroke="#4A9AF5" stroke-width="1.4"/>
<polyline points="336.6,279.29 353.3,279.29 370.1,278.89 387,254.94 403.8,252.35 420.4,253.74 437.2,246.16 453.8,250.15 470.2,251.35" fill="none" stroke="#FDB878" stroke-width="1.4"/>
<line x1="336.6" y1="279.29" x2="336.6" y2="287.28" stroke="#1c1c1c" stroke-width="1.1"/>
<path d="M334.6 278.69L338.6 278.69L336.6 280.79ZM334.6 287.88L338.6 287.88L336.6 285.78Z" fill="#1c1c1c"/>
<line x1="353.3" y1="279.29" x2="353.3" y2="287.28" stroke="#1c1c1c" stroke-width="1.1"/>
<path d="M351.3 278.69L355.3 278.69L353.3 280.79ZM351.3 287.88L355.3 287.88L353.3 285.78Z" fill="#1c1c1c"/>
<line x1="370.1" y1="278.69" x2="370.1" y2="286.68" stroke="#1c1c1c" stroke-width="1.1"/>
<path d="M368.1 278.09L372.1 278.09L370.1 280.19ZM368.1 287.28L372.1 287.28L370.1 285.18Z" fill="#1c1c1c"/>
<line x1="387" y1="258.33" x2="387" y2="272.31" stroke="#1c1c1c" stroke-width="1.1"/>
<path d="M385 257.73L389 257.73L387 259.83ZM385 272.91L389 272.91L387 270.81Z" fill="#1c1c1c"/>
<line x1="403.8" y1="260.13" x2="403.8" y2="272.11" stroke="#1c1c1c" stroke-width="1.1"/>
<path d="M401.8 259.53L405.8 259.53L403.8 261.63ZM401.8 272.71L405.8 272.71L403.8 270.61Z" fill="#1c1c1c"/>
<line x1="420.4" y1="260.13" x2="420.4" y2="272.11" stroke="#1c1c1c" stroke-width="1.1"/>
<path d="M418.4 259.53L422.4 259.53L420.4 261.63ZM418.4 272.71L422.4 272.71L420.4 270.61Z" fill="#1c1c1c"/>
<line x1="437.2" y1="242.37" x2="437.2" y2="256.34" stroke="#1c1c1c" stroke-width="1.1"/>
<path d="M435.2 241.77L439.2 241.77L437.2 243.87ZM435.2 256.94L439.2 256.94L437.2 254.84Z" fill="#1c1c1c"/>
<line x1="453.8" y1="246.56" x2="453.8" y2="258.53" stroke="#1c1c1c" stroke-width="1.1"/>
<path d="M451.8 245.96L455.8 245.96L453.8 248.06ZM451.8 259.13L455.8 259.13L453.8 257.03Z" fill="#1c1c1c"/>
<line x1="470.2" y1="247.36" x2="470.2" y2="259.33" stroke="#1c1c1c" stroke-width="1.1"/>
<path d="M468.2 246.76L472.2 246.76L470.2 248.86ZM468.2 259.93L472.2 259.93L470.2 257.83Z" fill="#1c1c1c"/>
<line x1="336.6" y1="286.28" x2="336.6" y2="292.27" stroke="#1c1c1c" stroke-width="1.1"/>
<path d="M334.6 285.68L338.6 285.68L336.6 287.78ZM334.6 292.87L338.6 292.87L336.6 290.77Z" fill="#1c1c1c"/>
<line x1="353.3" y1="285.88" x2="353.3" y2="291.87" stroke="#1c1c1c" stroke-width="1.1"/>
<path d="M351.3 285.28L355.3 285.28L353.3 287.38ZM351.3 292.47L355.3 292.47L353.3 290.37Z" fill="#1c1c1c"/>
<line x1="370.1" y1="284.88" x2="370.1" y2="290.87" stroke="#1c1c1c" stroke-width="1.1"/>
<path d="M368.1 284.28L372.1 284.28L370.1 286.38ZM368.1 291.47L372.1 291.47L370.1 289.37Z" fill="#1c1c1c"/>
<line x1="387" y1="270.91" x2="387" y2="280.89" stroke="#1c1c1c" stroke-width="1.1"/>
<path d="M385 270.31L389 270.31L387 272.41ZM385 281.49L389 281.49L387 279.39Z" fill="#1c1c1c"/>
<line x1="403.8" y1="270.31" x2="403.8" y2="279.09" stroke="#1c1c1c" stroke-width="1.1"/>
<path d="M401.8 269.71L405.8 269.71L403.8 271.81ZM401.8 279.69L405.8 279.69L403.8 277.59Z" fill="#1c1c1c"/>
<line x1="420.4" y1="270.31" x2="420.4" y2="279.09" stroke="#1c1c1c" stroke-width="1.1"/>
<path d="M418.4 269.71L422.4 269.71L420.4 271.81ZM418.4 279.69L422.4 279.69L420.4 277.59Z" fill="#1c1c1c"/>
<line x1="437.2" y1="258.33" x2="437.2" y2="266.32" stroke="#1c1c1c" stroke-width="1.1"/>
<path d="M435.2 257.73L439.2 257.73L437.2 259.83ZM435.2 266.92L439.2 266.92L437.2 264.82Z" fill="#1c1c1c"/>
<line x1="453.8" y1="259.73" x2="453.8" y2="267.72" stroke="#1c1c1c" stroke-width="1.1"/>
<path d="M451.8 259.13L455.8 259.13L453.8 261.23ZM451.8 268.32L455.8 268.32L453.8 266.22Z" fill="#1c1c1c"/>
<line x1="470.2" y1="258.73" x2="470.2" y2="268.71" stroke="#1c1c1c" stroke-width="1.1"/>
<path d="M468.2 258.13L472.2 258.13L470.2 260.23ZM468.2 269.31L472.2 269.31L470.2 267.21Z" fill="#1c1c1c"/>
<line x1="336.6" y1="274.3" x2="336.6" y2="284.28" stroke="#1c1c1c" stroke-width="1.1"/>
<path d="M334.6 273.7L338.6 273.7L336.6 275.8ZM334.6 284.88L338.6 284.88L336.6 282.78Z" fill="#1c1c1c"/>
<line x1="353.3" y1="274.3" x2="353.3" y2="284.28" stroke="#1c1c1c" stroke-width="1.1"/>
<path d="M351.3 273.7L355.3 273.7L353.3 275.8ZM351.3 284.88L355.3 284.88L353.3 282.78Z" fill="#1c1c1c"/>
<line x1="370.1" y1="274.5" x2="370.1" y2="283.28" stroke="#1c1c1c" stroke-width="1.1"/>
<path d="M368.1 273.9L372.1 273.9L370.1 276ZM368.1 283.88L372.1 283.88L370.1 281.78Z" fill="#1c1c1c"/>
<line x1="387" y1="246.96" x2="387" y2="262.92" stroke="#1c1c1c" stroke-width="1.1"/>
<path d="M385 246.36L389 246.36L387 248.46ZM385 263.52L389 263.52L387 261.42Z" fill="#1c1c1c"/>
<line x1="403.8" y1="246.36" x2="403.8" y2="258.33" stroke="#1c1c1c" stroke-width="1.1"/>
<path d="M401.8 245.76L405.8 245.76L403.8 247.86ZM401.8 258.93L405.8 258.93L403.8 256.83Z" fill="#1c1c1c"/>
<line x1="420.4" y1="247.76" x2="420.4" y2="259.73" stroke="#1c1c1c" stroke-width="1.1"/>
<path d="M418.4 247.16L422.4 247.16L420.4 249.26ZM418.4 260.33L422.4 260.33L420.4 258.23Z" fill="#1c1c1c"/>
<line x1="437.2" y1="239.77" x2="437.2" y2="252.55" stroke="#1c1c1c" stroke-width="1.1"/>
<path d="M435.2 239.17L439.2 239.17L437.2 241.27ZM435.2 253.15L439.2 253.15L437.2 251.05Z" fill="#1c1c1c"/>
<line x1="453.8" y1="243.76" x2="453.8" y2="256.54" stroke="#1c1c1c" stroke-width="1.1"/>
<path d="M451.8 243.16L455.8 243.16L453.8 245.26ZM451.8 257.14L455.8 257.14L453.8 255.04Z" fill="#1c1c1c"/>
<line x1="470.2" y1="245.36" x2="470.2" y2="257.34" stroke="#1c1c1c" stroke-width="1.1"/>
<path d="M468.2 244.76L472.2 244.76L470.2 246.86ZM468.2 257.94L472.2 257.94L470.2 255.84Z" fill="#1c1c1c"/>
<rect x="334.6" y="281.28" width="4" height="4" fill="#C8DEF8"/>
<rect x="351.3" y="281.28" width="4" height="4" fill="#C8DEF8"/>
<rect x="368.1" y="280.69" width="4" height="4" fill="#C8DEF8"/>
<rect x="385" y="263.32" width="4" height="4" fill="#C8DEF8"/>
<rect x="401.8" y="264.12" width="4" height="4" fill="#C8DEF8"/>
<rect x="418.4" y="264.12" width="4" height="4" fill="#C8DEF8"/>
<rect x="435.2" y="247.35" width="4" height="4" fill="#C8DEF8"/>
<rect x="451.8" y="250.55" width="4" height="4" fill="#C8DEF8"/>
<rect x="468.2" y="251.34" width="4" height="4" fill="#C8DEF8"/>
<path d="M336.6 286.67L339.1 291.07L334.1 291.07Z" fill="#4A9AF5"/>
<path d="M353.3 286.27L355.8 290.67L350.8 290.67Z" fill="#4A9AF5"/>
<path d="M370.1 285.27L372.6 289.67L367.6 289.67Z" fill="#4A9AF5"/>
<path d="M387 273.3L389.5 277.7L384.5 277.7Z" fill="#4A9AF5"/>
<path d="M403.8 272.1L406.3 276.5L401.3 276.5Z" fill="#4A9AF5"/>
<path d="M420.4 272.1L422.9 276.5L417.9 276.5Z" fill="#4A9AF5"/>
<path d="M437.2 259.73L439.7 264.13L434.7 264.13Z" fill="#4A9AF5"/>
<path d="M453.8 261.12L456.3 265.52L451.3 265.52Z" fill="#4A9AF5"/>
<path d="M470.2 261.12L472.7 265.52L467.7 265.52Z" fill="#4A9AF5"/>
<circle cx="336.6" cy="279.29" r="2.1" fill="#FDB878"/>
<circle cx="353.3" cy="279.29" r="2.1" fill="#FDB878"/>
<circle cx="370.1" cy="278.89" r="2.1" fill="#FDB878"/>
<circle cx="387" cy="254.94" r="2.1" fill="#FDB878"/>
<circle cx="403.8" cy="252.35" r="2.1" fill="#FDB878"/>
<circle cx="420.4" cy="253.74" r="2.1" fill="#FDB878"/>
<circle cx="437.2" cy="246.16" r="2.1" fill="#FDB878"/>
<circle cx="453.8" cy="250.15" r="2.1" fill="#FDB878"/>
<circle cx="470.2" cy="251.35" r="2.1" fill="#FDB878"/>
<line x1="333.2" y1="225.4" x2="333.2" y2="325.9" stroke="#1c1c1c" stroke-width="1.4"/>
<line x1="332.5" y1="325.2" x2="484" y2="325.2" stroke="#1c1c1c" stroke-width="1.4"/>
<line x1="330.7" y1="325.2" x2="333.2" y2="325.2" stroke="#1c1c1c" stroke-width="1.1"/>
<text x="329.7" y="327.34" font-size="6.3" font-weight="bold" text-anchor="end" fill="#000">0</text>
<line x1="330.7" y1="305.24" x2="333.2" y2="305.24" stroke="#1c1c1c" stroke-width="1.1"/>
<text x="329.7" y="307.38" font-size="6.3" font-weight="bold" text-anchor="end" fill="#000">100</text>
<line x1="330.7" y1="285.28" x2="333.2" y2="285.28" stroke="#1c1c1c" stroke-width="1.1"/>
<text x="329.7" y="287.42" font-size="6.3" font-weight="bold" text-anchor="end" fill="#000">200</text>
<line x1="330.7" y1="265.32" x2="333.2" y2="265.32" stroke="#1c1c1c" stroke-width="1.1"/>
<text x="329.7" y="267.46" font-size="6.3" font-weight="bold" text-anchor="end" fill="#000">300</text>
<line x1="330.7" y1="245.36" x2="333.2" y2="245.36" stroke="#1c1c1c" stroke-width="1.1"/>
<text x="329.7" y="247.5" font-size="6.3" font-weight="bold" text-anchor="end" fill="#000">400</text>
<line x1="330.7" y1="225.4" x2="333.2" y2="225.4" stroke="#1c1c1c" stroke-width="1.1"/>
<text x="329.7" y="227.54" font-size="6.3" font-weight="bold" text-anchor="end" fill="#000">500</text>
<line x1="333.2" y1="325.2" x2="333.2" y2="327.7" stroke="#1c1c1c" stroke-width="1.1"/>
<text x="333.2" y="334.6" font-size="6.3" font-weight="bold" text-anchor="middle" fill="#000">0</text>
<line x1="383.6" y1="325.2" x2="383.6" y2="327.7" stroke="#1c1c1c" stroke-width="1.1"/>
<text x="383.6" y="334.6" font-size="6.3" font-weight="bold" text-anchor="middle" fill="#000">20</text>
<line x1="434" y1="325.2" x2="434" y2="327.7" stroke="#1c1c1c" stroke-width="1.1"/>
<text x="434" y="334.6" font-size="6.3" font-weight="bold" text-anchor="middle" fill="#000">40</text>
<line x1="484.4" y1="325.2" x2="484.4" y2="327.7" stroke="#1c1c1c" stroke-width="1.1"/>
<text x="484.4" y="334.6" font-size="6.3" font-weight="bold" text-anchor="middle" fill="#000">60</text>
<text x="409" y="346.4" font-size="7.5" font-weight="bold" text-anchor="middle" fill="#000">Time (min)</text>
<text transform="translate(312,275.5) rotate(-90)" font-size="7.5" font-weight="bold" text-anchor="middle" fill="#000">PER (pmol/min/Norm. Unit)</text>
<line x1="479.4" y1="231.1" x2="489.9" y2="231.1" stroke="#FDB878" stroke-width="1.4"/>
<circle cx="484.65" cy="231.1" r="2.1" fill="#FDB878"/>
<text x="495.9" y="233.5" font-size="6.6" font-weight="normal" text-anchor="start" fill="#000">Control</text>
<line x1="479.4" y1="242.8" x2="489.9" y2="242.8" stroke="#C8DEF8" stroke-width="1.4"/>
<rect x="482.65" y="240.8" width="4" height="4" fill="#C8DEF8"/>
<text x="495.9" y="245.2" font-size="6.6" font-weight="normal" text-anchor="start" fill="#000">MEHP 20 μM</text>
<line x1="479.4" y1="254.5" x2="489.9" y2="254.5" stroke="#4A9AF5" stroke-width="1.4"/>
<path d="M484.65 251.9L487.15 256.3L482.15 256.3Z" fill="#4A9AF5"/>
<text x="495.9" y="256.9" font-size="6.6" font-weight="normal" text-anchor="start" fill="#000">MEHP 500 μM</text>
<text x="370.5" y="222.3" font-size="6.6" font-weight="normal" text-anchor="middle" fill="#000">Oligomycin</text>
<text x="437" y="221.6" font-size="6.6" font-weight="normal" text-anchor="middle" fill="#000">Rotenone+Antimycin A</text>
<text x="2.6" y="378.6" font-size="11.8" font-weight="bold" text-anchor="start" fill="#000">F</text>
<text x="67.4" y="379.3" font-size="12.8" font-weight="bold" text-anchor="start" fill="#000">DEHP</text>
<text x="176.9" y="375.6" font-size="8.9" font-weight="bold" text-anchor="middle" fill="#000">0 mg/kg/d</text>
<line x1="152.5" y1="385.8" x2="200.3" y2="385.8" stroke="#1c1c1c" stroke-width="1.8"/>
<text x="243" y="375.6" font-size="8.9" font-weight="bold" text-anchor="middle" fill="#000">5 mg/kg/d</text>
<line x1="220.3" y1="385.8" x2="267.8" y2="385.8" stroke="#1c1c1c" stroke-width="1.8"/>
<text x="309.2" y="375.6" font-size="8.9" font-weight="bold" text-anchor="middle" fill="#000">50 mg/kg/d</text>
<line x1="284.4" y1="385.8" x2="332.3" y2="385.8" stroke="#1c1c1c" stroke-width="1.8"/>
<text x="377.4" y="375.6" font-size="8.9" font-weight="bold" text-anchor="middle" fill="#000">200 mg/kg/d</text>
<line x1="351.4" y1="385.8" x2="400.1" y2="385.8" stroke="#1c1c1c" stroke-width="1.8"/>
<text x="98.6" y="429.9" font-size="8.9" font-weight="bold" text-anchor="end" fill="#000">C V-ATP5A</text>
<line x1="111" y1="428.9" x2="119" y2="428.9" stroke="#1c1c1c" stroke-width="1.2"/>
<path d="M118 427.1L122 428.9L118 430.7Z" fill="#000"/>
<text x="98.6" y="442.6" font-size="8.9" font-weight="bold" text-anchor="end" fill="#000">C III-UQCRC2</text>
<line x1="111" y1="440.3" x2="119" y2="440.3" stroke="#1c1c1c" stroke-width="1.2"/>
<path d="M118 438.5L122 440.3L118 442.1Z" fill="#000"/>
<text x="98.6" y="454.3" font-size="8.9" font-weight="bold" text-anchor="end" fill="#000">C IV-MTCO1</text>
<line x1="111" y1="450.8" x2="119" y2="450.8" stroke="#1c1c1c" stroke-width="1.2"/>
<path d="M118 449L122 450.8L118 452.6Z" fill="#000"/>
<text x="98.6" y="485.3" font-size="8.9" font-weight="bold" text-anchor="end" fill="#000">C II-SDHB</text>
<line x1="111" y1="482.3" x2="119" y2="482.3" stroke="#1c1c1c" stroke-width="1.2"/>
<path d="M118 480.5L122 482.3L118 484.1Z" fill="#000"/>
<text x="98.6" y="528.3" font-size="8.9" font-weight="bold" text-anchor="end" fill="#000">C I-NDUFB8</text>
<line x1="111" y1="525.4" x2="119" y2="525.4" stroke="#1c1c1c" stroke-width="1.2"/>
<path d="M118 523.6L122 525.4L118 527.2Z" fill="#000"/>
<text x="98.6" y="575.1" font-size="8.9" font-weight="bold" text-anchor="end" fill="#000">TOMM20</text>
<line x1="111" y1="570.3" x2="119" y2="570.3" stroke="#1c1c1c" stroke-width="1.2"/>
<path d="M118 568.5L122 570.3L118 572.1Z" fill="#000"/>
<g clip-path="url(#clipF)">
<rect x="133.2" y="400" width="292.5" height="140.7" fill="#dedede"/>
<rect x="145.3" y="414.5" width="28.2" height="10.5" rx="3.5" fill="#000" fill-opacity="0.2" filter="url(#b2)"/>
<rect x="145.95" y="409.85" width="26.9" height="6" rx="6" ry="3" fill="#000" fill-opacity="1" filter="url(#b1)"/>
<rect x="179" y="414" width="28.5" height="11" rx="3.67" fill="#000" fill-opacity="0.19" filter="url(#b2)"/>
<rect x="179.65" y="409.35" width="27.2" height="6" rx="6" ry="3" fill="#000" fill-opacity="1" filter="url(#b1)"/>
<rect x="214.4" y="412.8" width="25.9" height="12.2" rx="4.07" fill="#000" fill-opacity="0.17" filter="url(#b2)"/>
<rect x="215.05" y="409.55" width="24.6" height="4.6" rx="4.6" ry="2.3" fill="#000" fill-opacity="0.95" filter="url(#b1)"/>
<rect x="247.7" y="412.3" width="25.9" height="12.7" rx="4.23" fill="#000" fill-opacity="0.16" filter="url(#b2)"/>
<rect x="248.35" y="409.05" width="24.6" height="4.6" rx="4.6" ry="2.3" fill="#000" fill-opacity="0.85" filter="url(#b1)"/>
<rect x="280.8" y="412" width="25.4" height="13" rx="4.33" fill="#000" fill-opacity="0.08" filter="url(#b2)"/>
<rect x="281.45" y="409.55" width="24.1" height="3.8" rx="3.8" ry="1.9" fill="#000" fill-opacity="0.16" filter="url(#b1)"/>
<rect x="314" y="412" width="25.5" height="13" rx="4.33" fill="#000" fill-opacity="0.07" filter="url(#b2)"/>
<rect x="314.65" y="409.55" width="24.2" height="3.8" rx="3.8" ry="1.9" fill="#000" fill-opacity="0.13" filter="url(#b1)"/>
<rect x="347" y="412" width="26" height="13" rx="4.33" fill="#000" fill-opacity="0.08" filter="url(#b2)"/>
<rect x="347.65" y="409.65" width="24.7" height="3.7" rx="3.7" ry="1.85" fill="#000" fill-opacity="0.18" filter="url(#b1)"/>
<rect x="380.5" y="412" width="27.4" height="13" rx="4.33" fill="#000" fill-opacity="0.06" filter="url(#b2)"/>
<rect x="381.15" y="409.65" width="26.1" height="3.7" rx="3.7" ry="1.85" fill="#000" fill-opacity="0.11" filter="url(#b1)"/>
<rect x="144.05" y="425.85" width="30.3" height="6.1" rx="6.1" ry="3.05" fill="#000" fill-opacity="1" filter="url(#b1)"/>
<rect x="179.65" y="425.35" width="27.7" height="5.9" rx="5.9" ry="2.95" fill="#000" fill-opacity="1" filter="url(#b1)"/>
<rect x="212.95" y="425.65" width="28.3" height="5.4" rx="5.4" ry="2.7" fill="#000" fill-opacity="1" filter="url(#b1)"/>
<rect x="246.25" y="425.45" width="27.8" height="5.3" rx="5.3" ry="2.65" fill="#000" fill-opacity="1" filter="url(#b1)"/>
<rect x="280.35" y="426.15" width="26.2" height="4.4" rx="4.4" ry="2.2" fill="#000" fill-opacity="1" filter="url(#b1)"/>
<rect x="313.15" y="426.15" width="26.7" height="4.4" rx="4.4" ry="2.2" fill="#000" fill-opacity="1" filter="url(#b1)"/>
<rect x="346.45" y="425.65" width="27.8" height="4.7" rx="4.7" ry="2.35" fill="#000" fill-opacity="1" filter="url(#b1)"/>
<rect x="380.05" y="426.15" width="29.6" height="3.9" rx="3.9" ry="1.95" fill="#000" fill-opacity="1" filter="url(#b1)"/>
<rect x="143.7" y="444" width="30.3" height="13.5" rx="4.5" fill="#000" fill-opacity="0.22" filter="url(#b2)"/>
<rect x="145.7" y="446.5" width="26.3" height="8" rx="2.67" fill="#000" fill-opacity="0.13" filter="url(#b2)"/>
<rect x="179.6" y="444" width="27.4" height="13.5" rx="4.5" fill="#000" fill-opacity="0.22" filter="url(#b2)"/>
<rect x="181.6" y="446.5" width="23.4" height="8" rx="2.67" fill="#000" fill-opacity="0.13" filter="url(#b2)"/>
<rect x="212.8" y="444" width="28.1" height="13.5" rx="4.5" fill="#000" fill-opacity="0.25" filter="url(#b2)"/>
<rect x="214.8" y="446.5" width="24.1" height="8" rx="2.67" fill="#000" fill-opacity="0.15" filter="url(#b2)"/>
<rect x="247.1" y="444" width="26.6" height="13.5" rx="4.5" fill="#000" fill-opacity="0.22" filter="url(#b2)"/>
<rect x="249.1" y="446.5" width="22.6" height="8" rx="2.67" fill="#000" fill-opacity="0.13" filter="url(#b2)"/>
<rect x="280.2" y="444" width="27.1" height="13.5" rx="4.5" fill="#000" fill-opacity="0.16" filter="url(#b2)"/>
<rect x="282.2" y="446.5" width="23.1" height="8" rx="2.67" fill="#000" fill-opacity="0.1" filter="url(#b2)"/>
<rect x="313.4" y="444" width="27.2" height="13.5" rx="4.5" fill="#000" fill-opacity="0.14" filter="url(#b2)"/>
<rect x="315.4" y="446.5" width="23.2" height="8" rx="2.67" fill="#000" fill-opacity="0.08" filter="url(#b2)"/>
<rect x="347.2" y="444" width="26.9" height="13.5" rx="4.5" fill="#000" fill-opacity="0.17" filter="url(#b2)"/>
<rect x="349.2" y="446.5" width="22.9" height="8" rx="2.67" fill="#000" fill-opacity="0.1" filter="url(#b2)"/>
<rect x="380.2" y="444" width="29.2" height="13.5" rx="4.5" fill="#000" fill-opacity="0.12" filter="url(#b2)"/>
<rect x="382.2" y="446.5" width="25.2" height="8" rx="2.67" fill="#000" fill-opacity="0.07" filter="url(#b2)"/>
<rect x="142.35" y="437.95" width="33" height="6.6" rx="6.6" ry="3.3" fill="#000" fill-opacity="1" filter="url(#b1)"/>
<rect x="178.25" y="436.95" width="30.1" height="7.6" rx="7.6" ry="3.8" fill="#000" fill-opacity="1" filter="url(#b1)"/>
<rect x="211.45" y="437.15" width="30.8" height="6.9" rx="6.9" ry="3.45" fill="#000" fill-opacity="1" filter="url(#b1)"/>
<rect x="245.75" y="437.15" width="29.3" height="6.9" rx="6.9" ry="3.45" fill="#000" fill-opacity="1" filter="url(#b1)"/>
<rect x="278.85" y="437.65" width="29.8" height="5.9" rx="5.9" ry="2.95" fill="#000" fill-opacity="1" filter="url(#b1)"/>
<rect x="312.05" y="438.15" width="29.9" height="5.4" rx="5.4" ry="2.7" fill="#000" fill-opacity="1" filter="url(#b1)"/>
<rect x="345.85" y="437.65" width="29.6" height="6.3" rx="6.3" ry="3.15" fill="#000" fill-opacity="1" filter="url(#b1)"/>
<rect x="378.85" y="437.95" width="31.9" height="5.1" rx="5.1" ry="2.55" fill="#000" fill-opacity="1" filter="url(#b1)"/>
<rect x="139.95" y="478.35" width="34.2" height="7" rx="7" ry="3.5" fill="#000" fill-opacity="1" filter="url(#b1)"/>
<rect x="176.25" y="477.95" width="31.2" height="7" rx="7" ry="3.5" fill="#000" fill-opacity="1" filter="url(#b1)"/>
<rect x="209.65" y="477.65" width="31.8" height="6.9" rx="6.9" ry="3.45" fill="#000" fill-opacity="1" filter="url(#b1)"/>
<rect x="244.85" y="477.95" width="31" height="6.6" rx="6.6" ry="3.3" fill="#000" fill-opacity="1" filter="url(#b1)"/>
<rect x="278.85" y="478.55" width="29.2" height="5.7" rx="5.7" ry="2.85" fill="#000" fill-opacity="1" filter="url(#b1)"/>
<rect x="312.35" y="479.05" width="30.1" height="4.8" rx="4.8" ry="2.4" fill="#000" fill-opacity="1" filter="url(#b1)"/>
<rect x="347.55" y="478.85" width="29" height="5.6" rx="5.6" ry="2.8" fill="#000" fill-opacity="1" filter="url(#b1)"/>
<rect x="380.65" y="478.45" width="31.9" height="5.5" rx="5.5" ry="2.75" fill="#000" fill-opacity="1" filter="url(#b1)"/>
<rect x="143.3" y="489.5" width="27.5" height="6.5" rx="2.17" fill="#000" fill-opacity="0.12" filter="url(#b2)"/>
<rect x="179.6" y="489.5" width="24.5" height="6.5" rx="2.17" fill="#000" fill-opacity="0.11" filter="url(#b2)"/>
<rect x="213" y="489.5" width="25.1" height="6.5" rx="2.17" fill="#000" fill-opacity="0.06" filter="url(#b2)"/>
<rect x="248.2" y="489.5" width="24.3" height="6.5" rx="2.17" fill="#000" fill-opacity="0.05" filter="url(#b2)"/>
<rect x="282.2" y="489.5" width="22.5" height="6.5" rx="2.17" fill="#000" fill-opacity="0.04" filter="url(#b2)"/>
<rect x="315.7" y="489.5" width="23.4" height="6.5" rx="2.17" fill="#000" fill-opacity="0.04" filter="url(#b2)"/>
<rect x="350.9" y="489.5" width="22.3" height="6.5" rx="2.17" fill="#000" fill-opacity="0.05" filter="url(#b2)"/>
<rect x="384" y="489.5" width="25.2" height="6.5" rx="2.17" fill="#000" fill-opacity="0.04" filter="url(#b2)"/>
<rect x="175.65" y="520.95" width="29.6" height="7.1" rx="7.1" ry="3.55" fill="#000" fill-opacity="1" filter="url(#b1)"/>
<rect x="209.65" y="521.85" width="30.7" height="5.3" rx="5.3" ry="2.65" fill="#000" fill-opacity="0.82" filter="url(#b1)"/>
<rect x="245.15" y="522.05" width="30.1" height="5.1" rx="5.1" ry="2.55" fill="#000" fill-opacity="0.75" filter="url(#b1)"/>
<rect x="279.05" y="522.05" width="29.6" height="5.1" rx="5.1" ry="2.55" fill="#000" fill-opacity="0.8" filter="url(#b1)"/>
<rect x="312.95" y="522.35" width="29.5" height="5" rx="5" ry="2.5" fill="#000" fill-opacity="0.7" filter="url(#b1)"/>
<rect x="347.55" y="523.25" width="32" height="6.1" rx="6.1" ry="3.05" fill="#000" fill-opacity="1" filter="url(#b1)"/>
<rect x="380.65" y="523.65" width="35.2" height="7.1" rx="7.1" ry="3.55" fill="#000" fill-opacity="1" filter="url(#b1)"/>
<path d="M139.5 527 Q150 525.5 159 523.6 Q166 522.4 170.5 523.6 Q172.5 525.6 169.5 527.4 Q158 529.4 140 529.2 Q138.5 528 139.5 527Z" fill="#000" fill-opacity="0.95" filter="url(#b1)"/>
</g>
<rect x="133.2" y="400" width="292.5" height="140.7" fill="none" stroke="#2a2a2a" stroke-width="1.3"/>
<g clip-path="url(#clipT)">
<rect x="133.2" y="558" width="292.5" height="26.8" fill="#e4e4e4"/>
<rect x="178.35" y="567.95" width="30.8" height="7.1" rx="7.1" ry="3.55" fill="#000" fill-opacity="1" filter="url(#b1)"/>
<rect x="210.65" y="567.95" width="31.7" height="7.1" rx="7.1" ry="3.55" fill="#000" fill-opacity="1" filter="url(#b1)"/>
<rect x="245.05" y="567.95" width="30.8" height="7.1" rx="7.1" ry="3.55" fill="#000" fill-opacity="1" filter="url(#b1)"/>
<rect x="277.85" y="567.15" width="30.8" height="7.7" rx="7.7" ry="3.85" fill="#000" fill-opacity="1" filter="url(#b1)"/>
<rect x="310.15" y="567.65" width="31.8" height="6.7" rx="6.7" ry="3.35" fill="#000" fill-opacity="1" filter="url(#b1)"/>
<rect x="343.05" y="566.85" width="32.3" height="8.2" rx="8.2" ry="4.1" fill="#000" fill-opacity="1" filter="url(#b1)"/>
<rect x="377.45" y="566.85" width="36.6" height="8.2" rx="8.2" ry="4.1" fill="#000" fill-opacity="1" filter="url(#b1)"/>
<path d="M142 573 Q152 569 165 568.5 Q174 568.3 176 571 Q175 574 165 575 Q152 576.5 143 576.2 Q140 575 142 573Z" fill="#000" filter="url(#b1)"/>
</g>
<rect x="133.2" y="558" width="292.5" height="26.8" fill="none" stroke="#2a2a2a" stroke-width="1.3"/>
<text x="3" y="872.9" font-size="11.8" font-weight="bold" text-anchor="start" fill="#000">L</text>
<text x="41.6" y="916.3" font-size="11.6" font-weight="bold" text-anchor="start" fill="#000">DEHP mg/kg/d</text>
<text x="150.6" y="912.4" font-size="9.5" font-weight="bold" text-anchor="middle" fill="#000">0</text>
<line x1="140.7" y1="918.7" x2="160.2" y2="918.7" stroke="#1c1c1c" stroke-width="1.8"/>
<text x="178.1" y="912.4" font-size="9.5" font-weight="bold" text-anchor="middle" fill="#000">5</text>
<line x1="168.5" y1="918.7" x2="188.1" y2="918.7" stroke="#1c1c1c" stroke-width="1.8"/>
<text x="207.2" y="912.4" font-size="9.5" font-weight="bold" text-anchor="middle" fill="#000">50</text>
<line x1="197.7" y1="918.7" x2="217.2" y2="918.7" stroke="#1c1c1c" stroke-width="1.8"/>
<text x="236.4" y="912.4" font-size="9.5" font-weight="bold" text-anchor="middle" fill="#000">200</text>
<line x1="226.8" y1="918.7" x2="246.4" y2="918.7" stroke="#1c1c1c" stroke-width="1.8"/>
<text x="116.5" y="961" font-size="11.4" font-weight="bold" text-anchor="end" fill="#000">ACPM</text>
<text x="116.5" y="1004.6" font-size="11.4" font-weight="bold" text-anchor="end" fill="#000">β-actin</text>
<g clip-path="url(#clipA)">
<rect x="133.1" y="943.8" width="117.3" height="24.5" fill="#dcdcdc"/>
<rect x="135.85" y="953.55" width="22.3" height="5.2" rx="5.2" ry="2.6" fill="#000" fill-opacity="0.5" filter="url(#b1)"/>
<rect x="163.95" y="953.05" width="24.1" height="6.3" rx="6.3" ry="3.15" fill="#000" fill-opacity="1" filter="url(#b1)"/>
<rect x="191.65" y="952.55" width="25.4" height="7.1" rx="7.1" ry="3.55" fill="#000" fill-opacity="1" filter="url(#b1)"/>
<rect x="220.15" y="953.15" width="25" height="5.6" rx="5.6" ry="2.8" fill="#000" fill-opacity="0.95" filter="url(#b1)"/>
<circle cx="205.9" cy="951.4" r="0.6" fill="#000"/>
</g>
<rect x="133.1" y="943.8" width="117.3" height="24.5" fill="none" stroke="#222" stroke-width="1.5"/>
<g clip-path="url(#clipB)">
<rect x="133.1" y="988.7" width="117.3" height="24" fill="#e0e0e0"/>
<rect x="134.95" y="995.65" width="25.6" height="6.7" rx="6.7" ry="3.35" fill="#000" fill-opacity="1" filter="url(#b1)"/>
<rect x="163.65" y="995.65" width="26.9" height="6.7" rx="6.7" ry="3.35" fill="#000" fill-opacity="1" filter="url(#b1)"/>
<rect x="192.05" y="995.45" width="27.3" height="7.1" rx="7.1" ry="3.55" fill="#000" fill-opacity="1" filter="url(#b1)"/>
<rect x="220.55" y="995.65" width="28.4" height="7.1" rx="7.1" ry="3.55" fill="#000" fill-opacity="1" filter="url(#b1)"/>
</g>
<rect x="133.1" y="988.7" width="117.3" height="24" fill="none" stroke="#222" stroke-width="1.5"/>
<text x="548.6" y="378.8" font-size="11.8" font-weight="bold" text-anchor="start" fill="#000">G</text>
<line x1="605.3" y1="476.8" x2="605.3" y2="445.61" stroke="#1c1c1c" stroke-width="1.5"/>
<line x1="601.3" y1="445.61" x2="609.3" y2="445.61" stroke="#1c1c1c" stroke-width="1.9"/>
<rect x="596.8" y="477.6" width="17" height="76.2" fill="#FFC07F" stroke="#1c1c1c" stroke-width="1.6"/>
<line x1="630.4" y1="516.07" x2="630.4" y2="511.06" stroke="#1c1c1c" stroke-width="1.5"/>
<line x1="626.4" y1="511.06" x2="634.4" y2="511.06" stroke="#1c1c1c" stroke-width="1.9"/>
<rect x="621.9" y="516.87" width="17" height="36.93" fill="#C9DDF7" stroke="#1c1c1c" stroke-width="1.6"/>
<line x1="655.7" y1="511.83" x2="655.7" y2="509.91" stroke="#1c1c1c" stroke-width="1.5"/>
<line x1="651.7" y1="509.91" x2="659.7" y2="509.91" stroke="#1c1c1c" stroke-width="1.9"/>
<rect x="647.2" y="512.63" width="17" height="41.17" fill="#8FBDF7" stroke="#1c1c1c" stroke-width="1.6"/>
<line x1="681.6" y1="414.81" x2="681.6" y2="413.66" stroke="#1c1c1c" stroke-width="1.5"/>
<line x1="677.6" y1="413.66" x2="685.6" y2="413.66" stroke="#1c1c1c" stroke-width="1.9"/>
<rect x="673.1" y="415.61" width="17" height="138.19" fill="#549EFE" stroke="#1c1c1c" stroke-width="1.6"/>
<line x1="592.7" y1="399.8" x2="592.7" y2="554.7" stroke="#1c1c1c" stroke-width="1.8"/>
<line x1="591.8" y1="553.8" x2="695.7" y2="553.8" stroke="#1c1c1c" stroke-width="1.8"/>
<line x1="588.5" y1="553.8" x2="592.7" y2="553.8" stroke="#1c1c1c" stroke-width="1.5"/>
<text x="586.2" y="557.13" font-size="9.8" font-weight="bold" text-anchor="end" fill="#000">0.0</text>
<line x1="588.5" y1="515.3" x2="592.7" y2="515.3" stroke="#1c1c1c" stroke-width="1.5"/>
<text x="586.2" y="518.63" font-size="9.8" font-weight="bold" text-anchor="end" fill="#000">0.5</text>
<line x1="588.5" y1="476.8" x2="592.7" y2="476.8" stroke="#1c1c1c" stroke-width="1.5"/>
<text x="586.2" y="480.13" font-size="9.8" font-weight="bold" text-anchor="end" fill="#000">1.0</text>
<line x1="588.5" y1="438.3" x2="592.7" y2="438.3" stroke="#1c1c1c" stroke-width="1.5"/>
<text x="586.2" y="441.63" font-size="9.8" font-weight="bold" text-anchor="end" fill="#000">1.5</text>
<line x1="588.5" y1="399.8" x2="592.7" y2="399.8" stroke="#1c1c1c" stroke-width="1.5"/>
<text x="586.2" y="403.13" font-size="9.8" font-weight="bold" text-anchor="end" fill="#000">2.0</text>
<line x1="605.3" y1="553.8" x2="605.3" y2="558" stroke="#1c1c1c" stroke-width="1.5"/>
<text x="605.3" y="569.2" font-size="10.5" font-weight="bold" text-anchor="middle" fill="#000">0</text>
<line x1="630.4" y1="553.8" x2="630.4" y2="558" stroke="#1c1c1c" stroke-width="1.5"/>
<text x="630.4" y="569.2" font-size="10.5" font-weight="bold" text-anchor="middle" fill="#000">5</text>
<line x1="655.7" y1="553.8" x2="655.7" y2="558" stroke="#1c1c1c" stroke-width="1.5"/>
<text x="655.7" y="569.2" font-size="10.5" font-weight="bold" text-anchor="middle" fill="#000">50</text>
<line x1="681.6" y1="553.8" x2="681.6" y2="558" stroke="#1c1c1c" stroke-width="1.5"/>
<text x="681.6" y="569.2" font-size="10.5" font-weight="bold" text-anchor="middle" fill="#000">200</text>
<text x="643.5" y="588" font-size="11.75" font-weight="bold" text-anchor="middle" fill="#000">DEHP (mg/kg/d)</text>
<text transform="translate(566.2,477.4) rotate(-90)" font-size="12" font-weight="bold" text-anchor="middle" fill="#000">C I (NDUFB8) / TOMM20</text>
<path d="M604.8 405.7L604.8 402.7L683.1 402.7L683.1 405.7" fill="none" stroke="#1c1c1c" stroke-width="1.7"/>
<circle cx="643" cy="398.5" r="1.4" fill="#5a5a5a"/>
<text x="2.8" y="624.5" font-size="11.8" font-weight="bold" text-anchor="start" fill="#000">H</text>
<line x1="71.05" y1="696.3" x2="71.05" y2="695.79" stroke="#1c1c1c" stroke-width="1.5"/>
<line x1="67.05" y1="695.79" x2="75.05" y2="695.79" stroke="#1c1c1c" stroke-width="1.9"/>
<rect x="62.9" y="697.1" width="16.3" height="102.1" fill="#FFC07F" stroke="#1c1c1c" stroke-width="1.6"/>
<line x1="96.75" y1="694.24" x2="96.75" y2="692.7" stroke="#1c1c1c" stroke-width="1.5"/>
<line x1="92.75" y1="692.7" x2="100.75" y2="692.7" stroke="#1c1c1c" stroke-width="1.9"/>
<rect x="88.6" y="695.04" width="16.3" height="104.16" fill="#C9DDF7" stroke="#1c1c1c" stroke-width="1.6"/>
<line x1="122.25" y1="732.83" x2="122.25" y2="731.8" stroke="#1c1c1c" stroke-width="1.5"/>
<line x1="118.25" y1="731.8" x2="126.25" y2="731.8" stroke="#1c1c1c" stroke-width="1.9"/>
<rect x="114.1" y="733.63" width="16.3" height="65.57" fill="#8FBDF7" stroke="#1c1c1c" stroke-width="1.6"/>
<line x1="147.95" y1="744.15" x2="147.95" y2="736.43" stroke="#1c1c1c" stroke-width="1.5"/>
<line x1="143.95" y1="736.43" x2="151.95" y2="736.43" stroke="#1c1c1c" stroke-width="1.9"/>
<rect x="139.8" y="744.95" width="16.3" height="54.25" fill="#549EFE" stroke="#1c1c1c" stroke-width="1.6"/>
<line x1="57.9" y1="644.85" x2="57.9" y2="800.1" stroke="#1c1c1c" stroke-width="1.8"/>
<line x1="57" y1="799.2" x2="161.8" y2="799.2" stroke="#1c1c1c" stroke-width="1.8"/>
<line x1="53.7" y1="799.2" x2="57.9" y2="799.2" stroke="#1c1c1c" stroke-width="1.5"/>
<text x="51.4" y="802.53" font-size="9.8" font-weight="bold" text-anchor="end" fill="#000">0.0</text>
<line x1="53.7" y1="747.75" x2="57.9" y2="747.75" stroke="#1c1c1c" stroke-width="1.5"/>
<text x="51.4" y="751.08" font-size="9.8" font-weight="bold" text-anchor="end" fill="#000">0.5</text>
<line x1="53.7" y1="696.3" x2="57.9" y2="696.3" stroke="#1c1c1c" stroke-width="1.5"/>
<text x="51.4" y="699.63" font-size="9.8" font-weight="bold" text-anchor="end" fill="#000">1.0</text>
<line x1="53.7" y1="644.85" x2="57.9" y2="644.85" stroke="#1c1c1c" stroke-width="1.5"/>
<text x="51.4" y="648.18" font-size="9.8" font-weight="bold" text-anchor="end" fill="#000">1.5</text>
<line x1="71.05" y1="799.2" x2="71.05" y2="803.4" stroke="#1c1c1c" stroke-width="1.5"/>
<text x="71.05" y="814" font-size="10.5" font-weight="bold" text-anchor="middle" fill="#000">0</text>
<line x1="96.75" y1="799.2" x2="96.75" y2="803.4" stroke="#1c1c1c" stroke-width="1.5"/>
<text x="96.75" y="814" font-size="10.5" font-weight="bold" text-anchor="middle" fill="#000">5</text>
<line x1="122.25" y1="799.2" x2="122.25" y2="803.4" stroke="#1c1c1c" stroke-width="1.5"/>
<text x="122.25" y="814" font-size="10.5" font-weight="bold" text-anchor="middle" fill="#000">50</text>
<line x1="147.95" y1="799.2" x2="147.95" y2="803.4" stroke="#1c1c1c" stroke-width="1.5"/>
<text x="147.95" y="814" font-size="10.5" font-weight="bold" text-anchor="middle" fill="#000">200</text>
<text x="109.2" y="833.2" font-size="11.75" font-weight="bold" text-anchor="middle" fill="#000">DEHP (mg/kg/d)</text>
<text transform="translate(32.4,726) rotate(-90)" font-size="12" font-weight="bold" text-anchor="middle" fill="#000">C II (SDHB) / TOMM20</text>
<path d="M71.1 653.6L71.1 650.4L149.8 650.4L149.8 653.6" fill="none" stroke="#1c1c1c" stroke-width="1.7"/>
<circle cx="109.3" cy="646.2" r="1.4" fill="#5a5a5a"/>
<path d="M71.1 666.1L71.1 662.9L122.8 662.9L122.8 666.1" fill="none" stroke="#1c1c1c" stroke-width="1.7"/>
<circle cx="97.4" cy="658.7" r="1.4" fill="#5a5a5a"/>
<text x="184.8" y="622.5" font-size="11.8" font-weight="bold" text-anchor="start" fill="#000">I</text>
<line x1="249.7" y1="696.3" x2="249.7" y2="690.13" stroke="#1c1c1c" stroke-width="1.5"/>
<line x1="245.7" y1="690.13" x2="253.7" y2="690.13" stroke="#1c1c1c" stroke-width="1.9"/>
<rect x="241.7" y="697.1" width="16" height="102.1" fill="#FFC07F" stroke="#1c1c1c" stroke-width="1.6"/>
<line x1="275.4" y1="675.21" x2="275.4" y2="672.63" stroke="#1c1c1c" stroke-width="1.5"/>
<line x1="271.4" y1="672.63" x2="279.4" y2="672.63" stroke="#1c1c1c" stroke-width="1.9"/>
<rect x="267.4" y="676.01" width="16" height="123.19" fill="#C9DDF7" stroke="#1c1c1c" stroke-width="1.6"/>
<line x1="300.8" y1="721" x2="300.8" y2="717.91" stroke="#1c1c1c" stroke-width="1.5"/>
<line x1="296.8" y1="717.91" x2="304.8" y2="717.91" stroke="#1c1c1c" stroke-width="1.9"/>
<rect x="292.8" y="721.8" width="16" height="77.4" fill="#8FBDF7" stroke="#1c1c1c" stroke-width="1.6"/>
<line x1="326.5" y1="729.74" x2="326.5" y2="717.39" stroke="#1c1c1c" stroke-width="1.5"/>
<line x1="322.5" y1="717.39" x2="330.5" y2="717.39" stroke="#1c1c1c" stroke-width="1.9"/>
<rect x="318.5" y="730.54" width="16" height="68.66" fill="#549EFE" stroke="#1c1c1c" stroke-width="1.6"/>
<line x1="236.9" y1="644.85" x2="236.9" y2="800.1" stroke="#1c1c1c" stroke-width="1.8"/>
<line x1="236" y1="799.2" x2="339.8" y2="799.2" stroke="#1c1c1c" stroke-width="1.8"/>
<line x1="232.7" y1="799.2" x2="236.9" y2="799.2" stroke="#1c1c1c" stroke-width="1.5"/>
<text x="230.4" y="802.53" font-size="9.8" font-weight="bold" text-anchor="end" fill="#000">0.0</text>
<line x1="232.7" y1="747.75" x2="236.9" y2="747.75" stroke="#1c1c1c" stroke-width="1.5"/>
<text x="230.4" y="751.08" font-size="9.8" font-weight="bold" text-anchor="end" fill="#000">0.5</text>
<line x1="232.7" y1="696.3" x2="236.9" y2="696.3" stroke="#1c1c1c" stroke-width="1.5"/>
<text x="230.4" y="699.63" font-size="9.8" font-weight="bold" text-anchor="end" fill="#000">1.0</text>
<line x1="232.7" y1="644.85" x2="236.9" y2="644.85" stroke="#1c1c1c" stroke-width="1.5"/>
<text x="230.4" y="648.18" font-size="9.8" font-weight="bold" text-anchor="end" fill="#000">1.5</text>
<line x1="249.7" y1="799.2" x2="249.7" y2="803.4" stroke="#1c1c1c" stroke-width="1.5"/>
<text x="249.7" y="814" font-size="10.5" font-weight="bold" text-anchor="middle" fill="#000">0</text>
<line x1="275.4" y1="799.2" x2="275.4" y2="803.4" stroke="#1c1c1c" stroke-width="1.5"/>
<text x="275.4" y="814" font-size="10.5" font-weight="bold" text-anchor="middle" fill="#000">5</text>
<line x1="300.8" y1="799.2" x2="300.8" y2="803.4" stroke="#1c1c1c" stroke-width="1.5"/>
<text x="300.8" y="814" font-size="10.5" font-weight="bold" text-anchor="middle" fill="#000">50</text>
<line x1="326.5" y1="799.2" x2="326.5" y2="803.4" stroke="#1c1c1c" stroke-width="1.5"/>
<text x="326.5" y="814" font-size="10.5" font-weight="bold" text-anchor="middle" fill="#000">200</text>
<text x="288.6" y="833.2" font-size="11.75" font-weight="bold" text-anchor="middle" fill="#000">DEHP (mg/kg/d)</text>
<text transform="translate(210.5,723.5) rotate(-90)" font-size="12" font-weight="bold" text-anchor="middle" fill="#000">C III (UQCRC2) / TOMM20</text>
<path d="M249.9 654.4L249.9 651.2L328 651.2L328 654.4" fill="none" stroke="#1c1c1c" stroke-width="1.7"/>
<circle cx="287.8" cy="647" r="1.4" fill="#5a5a5a"/>
<text x="366" y="622.5" font-size="11.8" font-weight="bold" text-anchor="start" fill="#000">J</text>
<line x1="427.4" y1="697.7" x2="427.4" y2="695.66" stroke="#1c1c1c" stroke-width="1.5"/>
<line x1="423.4" y1="695.66" x2="431.4" y2="695.66" stroke="#1c1c1c" stroke-width="1.9"/>
<rect x="419.2" y="698.5" width="16.4" height="101.2" fill="#FFC07F" stroke="#1c1c1c" stroke-width="1.6"/>
<line x1="453.1" y1="671.18" x2="453.1" y2="670.16" stroke="#1c1c1c" stroke-width="1.5"/>
<line x1="449.1" y1="670.16" x2="457.1" y2="670.16" stroke="#1c1c1c" stroke-width="1.9"/>
<rect x="444.9" y="671.98" width="16.4" height="127.72" fill="#C9DDF7" stroke="#1c1c1c" stroke-width="1.6"/>
<line x1="478.5" y1="739.01" x2="478.5" y2="738.5" stroke="#1c1c1c" stroke-width="1.5"/>
<line x1="474.5" y1="738.5" x2="482.5" y2="738.5" stroke="#1c1c1c" stroke-width="1.9"/>
<rect x="470.3" y="739.81" width="16.4" height="59.89" fill="#8FBDF7" stroke="#1c1c1c" stroke-width="1.6"/>
<line x1="504.2" y1="749.72" x2="504.2" y2="736.97" stroke="#1c1c1c" stroke-width="1.5"/>
<line x1="500.2" y1="736.97" x2="508.2" y2="736.97" stroke="#1c1c1c" stroke-width="1.9"/>
<rect x="496" y="750.52" width="16.4" height="49.18" fill="#549EFE" stroke="#1c1c1c" stroke-width="1.6"/>
<line x1="414.4" y1="646.7" x2="414.4" y2="800.6" stroke="#1c1c1c" stroke-width="1.8"/>
<line x1="413.5" y1="799.7" x2="516.8" y2="799.7" stroke="#1c1c1c" stroke-width="1.8"/>
<line x1="410.2" y1="799.7" x2="414.4" y2="799.7" stroke="#1c1c1c" stroke-width="1.5"/>
<text x="407.9" y="803.03" font-size="9.8" font-weight="bold" text-anchor="end" fill="#000">0.0</text>
<line x1="410.2" y1="748.7" x2="414.4" y2="748.7" stroke="#1c1c1c" stroke-width="1.5"/>
<text x="407.9" y="752.03" font-size="9.8" font-weight="bold" text-anchor="end" fill="#000">0.5</text>
<line x1="410.2" y1="697.7" x2="414.4" y2="697.7" stroke="#1c1c1c" stroke-width="1.5"/>
<text x="407.9" y="701.03" font-size="9.8" font-weight="bold" text-anchor="end" fill="#000">1.0</text>
<line x1="410.2" y1="646.7" x2="414.4" y2="646.7" stroke="#1c1c1c" stroke-width="1.5"/>
<text x="407.9" y="650.03" font-size="9.8" font-weight="bold" text-anchor="end" fill="#000">1.5</text>
<line x1="427.4" y1="799.7" x2="427.4" y2="803.9" stroke="#1c1c1c" stroke-width="1.5"/>
<text x="427.4" y="813.5" font-size="10.5" font-weight="bold" text-anchor="middle" fill="#000">0</text>
<line x1="453.1" y1="799.7" x2="453.1" y2="803.9" stroke="#1c1c1c" stroke-width="1.5"/>
<text x="453.1" y="813.5" font-size="10.5" font-weight="bold" text-anchor="middle" fill="#000">5</text>
<line x1="478.5" y1="799.7" x2="478.5" y2="803.9" stroke="#1c1c1c" stroke-width="1.5"/>
<text x="478.5" y="813.5" font-size="10.5" font-weight="bold" text-anchor="middle" fill="#000">50</text>
<line x1="504.2" y1="799.7" x2="504.2" y2="803.9" stroke="#1c1c1c" stroke-width="1.5"/>
<text x="504.2" y="813.5" font-size="10.5" font-weight="bold" text-anchor="middle" fill="#000">200</text>
<text x="465.6" y="833" font-size="11.75" font-weight="bold" text-anchor="middle" fill="#000">DEHP (mg/kg/d)</text>
<text transform="translate(389.3,724.8) rotate(-90)" font-size="12" font-weight="bold" text-anchor="middle" fill="#000">C IV (MTCO1) / TOMM20</text>
<path d="M427.4 648.6L427.4 645.4L505.3 645.4L505.3 648.6" fill="none" stroke="#1c1c1c" stroke-width="1.7"/>
<circle cx="466.1" cy="641.2" r="1.4" fill="#5a5a5a"/>
<path d="M427.4 660.6L427.4 657.4L479.3 657.4L479.3 660.6" fill="none" stroke="#1c1c1c" stroke-width="1.7"/>
<circle cx="453.6" cy="653.2" r="1.4" fill="#5a5a5a"/>
<text x="549.4" y="622.5" font-size="11.8" font-weight="bold" text-anchor="start" fill="#000">K</text>
<line x1="605.4" y1="696.3" x2="605.4" y2="692.18" stroke="#1c1c1c" stroke-width="1.5"/>
<line x1="601.4" y1="692.18" x2="609.4" y2="692.18" stroke="#1c1c1c" stroke-width="1.9"/>
<rect x="597.4" y="697.1" width="16" height="102.1" fill="#FFC07F" stroke="#1c1c1c" stroke-width="1.6"/>
<line x1="630.9" y1="695.27" x2="630.9" y2="694.24" stroke="#1c1c1c" stroke-width="1.5"/>
<line x1="626.9" y1="694.24" x2="634.9" y2="694.24" stroke="#1c1c1c" stroke-width="1.9"/>
<rect x="622.9" y="696.07" width="16" height="103.13" fill="#C9DDF7" stroke="#1c1c1c" stroke-width="1.6"/>
<line x1="656.6" y1="757.01" x2="656.6" y2="750.84" stroke="#1c1c1c" stroke-width="1.5"/>
<line x1="652.6" y1="750.84" x2="660.6" y2="750.84" stroke="#1c1c1c" stroke-width="1.9"/>
<rect x="648.6" y="757.81" width="16" height="41.39" fill="#8FBDF7" stroke="#1c1c1c" stroke-width="1.6"/>
<line x1="682" y1="747.75" x2="682" y2="731.29" stroke="#1c1c1c" stroke-width="1.5"/>
<line x1="678" y1="731.29" x2="686" y2="731.29" stroke="#1c1c1c" stroke-width="1.9"/>
<rect x="674" y="748.55" width="16" height="50.65" fill="#549EFE" stroke="#1c1c1c" stroke-width="1.6"/>
<line x1="592.4" y1="644.85" x2="592.4" y2="800.1" stroke="#1c1c1c" stroke-width="1.8"/>
<line x1="591.5" y1="799.2" x2="696" y2="799.2" stroke="#1c1c1c" stroke-width="1.8"/>
<line x1="588.2" y1="799.2" x2="592.4" y2="799.2" stroke="#1c1c1c" stroke-width="1.5"/>
<text x="585.9" y="802.53" font-size="9.8" font-weight="bold" text-anchor="end" fill="#000">0.0</text>
<line x1="588.2" y1="747.75" x2="592.4" y2="747.75" stroke="#1c1c1c" stroke-width="1.5"/>
<text x="585.9" y="751.08" font-size="9.8" font-weight="bold" text-anchor="end" fill="#000">0.5</text>
<line x1="588.2" y1="696.3" x2="592.4" y2="696.3" stroke="#1c1c1c" stroke-width="1.5"/>
<text x="585.9" y="699.63" font-size="9.8" font-weight="bold" text-anchor="end" fill="#000">1.0</text>
<line x1="588.2" y1="644.85" x2="592.4" y2="644.85" stroke="#1c1c1c" stroke-width="1.5"/>
<text x="585.9" y="648.18" font-size="9.8" font-weight="bold" text-anchor="end" fill="#000">1.5</text>
<line x1="605.4" y1="799.2" x2="605.4" y2="803.4" stroke="#1c1c1c" stroke-width="1.5"/>
<text x="605.4" y="814" font-size="10.5" font-weight="bold" text-anchor="middle" fill="#000">0</text>
<line x1="630.9" y1="799.2" x2="630.9" y2="803.4" stroke="#1c1c1c" stroke-width="1.5"/>
<text x="630.9" y="814" font-size="10.5" font-weight="bold" text-anchor="middle" fill="#000">5</text>
<line x1="656.6" y1="799.2" x2="656.6" y2="803.4" stroke="#1c1c1c" stroke-width="1.5"/>
<text x="656.6" y="814" font-size="10.5" font-weight="bold" text-anchor="middle" fill="#000">50</text>
<line x1="682" y1="799.2" x2="682" y2="803.4" stroke="#1c1c1c" stroke-width="1.5"/>
<text x="682" y="814" font-size="10.5" font-weight="bold" text-anchor="middle" fill="#000">200</text>
<text x="643.6" y="833.2" font-size="11.75" font-weight="bold" text-anchor="middle" fill="#000">DEHP (mg/kg/d)</text>
<text transform="translate(568,722.3) rotate(-90)" font-size="12" font-weight="bold" text-anchor="middle" fill="#000">C V (ATP5A) / TOMM20</text>
<path d="M605.4 654.4L605.4 651.2L683.5 651.2L683.5 654.4" fill="none" stroke="#1c1c1c" stroke-width="1.7"/>
<circle cx="643.6" cy="647" r="1.4" fill="#5a5a5a"/>
<path d="M605.4 666.9L605.4 663.7L656.8 663.7L656.8 666.9" fill="none" stroke="#1c1c1c" stroke-width="1.7"/>
<circle cx="631.1" cy="659.5" r="1.4" fill="#5a5a5a"/>
<text x="366.8" y="871.2" font-size="11.8" font-weight="bold" text-anchor="start" fill="#000">M</text>
<line x1="426.5" y1="1012.25" x2="426.5" y2="1007.92" stroke="#1c1c1c" stroke-width="1.5"/>
<line x1="422.5" y1="1007.92" x2="430.5" y2="1007.92" stroke="#1c1c1c" stroke-width="1.9"/>
<rect x="418.4" y="1013.05" width="16.2" height="14.65" fill="#FFC07F" stroke="#1c1c1c" stroke-width="1.6"/>
<line x1="452.2" y1="971.77" x2="452.2" y2="953.54" stroke="#1c1c1c" stroke-width="1.5"/>
<line x1="448.2" y1="953.54" x2="456.2" y2="953.54" stroke="#1c1c1c" stroke-width="1.9"/>
<rect x="444.1" y="972.57" width="16.2" height="55.13" fill="#C9DDF7" stroke="#1c1c1c" stroke-width="1.6"/>
<line x1="477.7" y1="921.1" x2="477.7" y2="896.84" stroke="#1c1c1c" stroke-width="1.5"/>
<line x1="473.7" y1="896.84" x2="481.7" y2="896.84" stroke="#1c1c1c" stroke-width="1.9"/>
<rect x="469.6" y="921.89" width="16.2" height="105.81" fill="#8FBDF7" stroke="#1c1c1c" stroke-width="1.6"/>
<line x1="503.4" y1="980.58" x2="503.4" y2="969.3" stroke="#1c1c1c" stroke-width="1.5"/>
<line x1="499.4" y1="969.3" x2="507.4" y2="969.3" stroke="#1c1c1c" stroke-width="1.9"/>
<rect x="495.3" y="981.38" width="16.2" height="46.32" fill="#549EFE" stroke="#1c1c1c" stroke-width="1.6"/>
<line x1="413.7" y1="873.2" x2="413.7" y2="1028.6" stroke="#1c1c1c" stroke-width="1.8"/>
<line x1="412.8" y1="1027.7" x2="516.8" y2="1027.7" stroke="#1c1c1c" stroke-width="1.8"/>
<line x1="409.5" y1="1027.7" x2="413.7" y2="1027.7" stroke="#1c1c1c" stroke-width="1.5"/>
<text x="407.2" y="1031.03" font-size="9.8" font-weight="bold" text-anchor="end" fill="#000">0</text>
<line x1="409.5" y1="996.8" x2="413.7" y2="996.8" stroke="#1c1c1c" stroke-width="1.5"/>
<text x="407.2" y="1000.13" font-size="9.8" font-weight="bold" text-anchor="end" fill="#000">2</text>
<line x1="409.5" y1="965.9" x2="413.7" y2="965.9" stroke="#1c1c1c" stroke-width="1.5"/>
<text x="407.2" y="969.23" font-size="9.8" font-weight="bold" text-anchor="end" fill="#000">4</text>
<line x1="409.5" y1="935" x2="413.7" y2="935" stroke="#1c1c1c" stroke-width="1.5"/>
<text x="407.2" y="938.33" font-size="9.8" font-weight="bold" text-anchor="end" fill="#000">6</text>
<line x1="409.5" y1="904.1" x2="413.7" y2="904.1" stroke="#1c1c1c" stroke-width="1.5"/>
<text x="407.2" y="907.43" font-size="9.8" font-weight="bold" text-anchor="end" fill="#000">8</text>
<line x1="409.5" y1="873.2" x2="413.7" y2="873.2" stroke="#1c1c1c" stroke-width="1.5"/>
<text x="407.2" y="876.53" font-size="9.8" font-weight="bold" text-anchor="end" fill="#000">10</text>
<line x1="426.5" y1="1027.7" x2="426.5" y2="1031.9" stroke="#1c1c1c" stroke-width="1.5"/>
<text x="426.5" y="1042.8" font-size="10.5" font-weight="bold" text-anchor="middle" fill="#000">0</text>
<line x1="452.2" y1="1027.7" x2="452.2" y2="1031.9" stroke="#1c1c1c" stroke-width="1.5"/>
<text x="452.2" y="1042.8" font-size="10.5" font-weight="bold" text-anchor="middle" fill="#000">5</text>
<line x1="477.7" y1="1027.7" x2="477.7" y2="1031.9" stroke="#1c1c1c" stroke-width="1.5"/>
<text x="477.7" y="1042.8" font-size="10.5" font-weight="bold" text-anchor="middle" fill="#000">50</text>
<line x1="503.4" y1="1027.7" x2="503.4" y2="1031.9" stroke="#1c1c1c" stroke-width="1.5"/>
<text x="503.4" y="1042.8" font-size="10.5" font-weight="bold" text-anchor="middle" fill="#000">200</text>
<text x="465" y="1061" font-size="11.75" font-weight="bold" text-anchor="middle" fill="#000">DEHP (mg/kg/d)</text>
<text transform="translate(389.3,952.3) rotate(-90)" font-size="11.7" font-weight="bold" text-anchor="middle" fill="#000">ACPM/β-actin</text>
<path d="M426.2 888.2L426.2 885L477.8 885L477.8 888.2" fill="none" stroke="#1c1c1c" stroke-width="1.7"/>
<circle cx="451.1" cy="880.8" r="1.4" fill="#5a5a5a"/>
<text x="549.4" y="872" font-size="11.8" font-weight="bold" text-anchor="start" fill="#000">N</text>
<line x1="603.4" y1="991.77" x2="603.4" y2="978.67" stroke="#1c1c1c" stroke-width="1.5"/>
<line x1="599.4" y1="978.67" x2="607.4" y2="978.67" stroke="#1c1c1c" stroke-width="1.9"/>
<rect x="595.4" y="992.57" width="16" height="36.63" fill="#FFC07F" stroke="#1c1c1c" stroke-width="1.6"/>
<line x1="628.4" y1="926.64" x2="628.4" y2="903.06" stroke="#1c1c1c" stroke-width="1.5"/>
<line x1="624.4" y1="903.06" x2="632.4" y2="903.06" stroke="#1c1c1c" stroke-width="1.9"/>
<rect x="620.4" y="927.44" width="16" height="101.76" fill="#C9DDF7" stroke="#1c1c1c" stroke-width="1.6"/>
<line x1="653.3" y1="914.29" x2="653.3" y2="893.7" stroke="#1c1c1c" stroke-width="1.5"/>
<line x1="649.3" y1="893.7" x2="657.3" y2="893.7" stroke="#1c1c1c" stroke-width="1.9"/>
<rect x="645.3" y="915.09" width="16" height="114.11" fill="#8FBDF7" stroke="#1c1c1c" stroke-width="1.6"/>
<line x1="677.8" y1="973.43" x2="677.8" y2="958.08" stroke="#1c1c1c" stroke-width="1.5"/>
<line x1="673.8" y1="958.08" x2="681.8" y2="958.08" stroke="#1c1c1c" stroke-width="1.9"/>
<rect x="669.8" y="974.23" width="16" height="54.97" fill="#549EFE" stroke="#1c1c1c" stroke-width="1.6"/>
<line x1="590.7" y1="879.48" x2="590.7" y2="1030.1" stroke="#1c1c1c" stroke-width="1.8"/>
<line x1="589.8" y1="1029.2" x2="691" y2="1029.2" stroke="#1c1c1c" stroke-width="1.8"/>
<line x1="586.5" y1="1029.2" x2="590.7" y2="1029.2" stroke="#1c1c1c" stroke-width="1.5"/>
<text x="584.2" y="1032.53" font-size="9.8" font-weight="bold" text-anchor="end" fill="#000">0.0</text>
<line x1="586.5" y1="991.77" x2="590.7" y2="991.77" stroke="#1c1c1c" stroke-width="1.5"/>
<text x="584.2" y="995.1" font-size="9.8" font-weight="bold" text-anchor="end" fill="#000">1.0</text>
<line x1="586.5" y1="954.34" x2="590.7" y2="954.34" stroke="#1c1c1c" stroke-width="1.5"/>
<text x="584.2" y="957.67" font-size="9.8" font-weight="bold" text-anchor="end" fill="#000">2.0</text>
<line x1="586.5" y1="916.91" x2="590.7" y2="916.91" stroke="#1c1c1c" stroke-width="1.5"/>
<text x="584.2" y="920.24" font-size="9.8" font-weight="bold" text-anchor="end" fill="#000">3.0</text>
<line x1="586.5" y1="879.48" x2="590.7" y2="879.48" stroke="#1c1c1c" stroke-width="1.5"/>
<text x="584.2" y="882.81" font-size="9.8" font-weight="bold" text-anchor="end" fill="#000">4.0</text>
<line x1="603.4" y1="1029.2" x2="603.4" y2="1033.4" stroke="#1c1c1c" stroke-width="1.5"/>
<text x="603.4" y="1043.8" font-size="10.5" font-weight="bold" text-anchor="middle" fill="#000">0</text>
<line x1="628.4" y1="1029.2" x2="628.4" y2="1033.4" stroke="#1c1c1c" stroke-width="1.5"/>
<text x="628.4" y="1043.8" font-size="10.5" font-weight="bold" text-anchor="middle" fill="#000">5</text>
<line x1="653.3" y1="1029.2" x2="653.3" y2="1033.4" stroke="#1c1c1c" stroke-width="1.5"/>
<text x="653.3" y="1043.8" font-size="10.5" font-weight="bold" text-anchor="middle" fill="#000">50</text>
<line x1="677.8" y1="1029.2" x2="677.8" y2="1033.4" stroke="#1c1c1c" stroke-width="1.5"/>
<text x="677.8" y="1043.8" font-size="10.5" font-weight="bold" text-anchor="middle" fill="#000">200</text>
<text x="640.5" y="1061.5" font-size="11.75" font-weight="bold" text-anchor="middle" fill="#000">DEHP (mg/kg/d)</text>
<text transform="translate(565.4,955.5) rotate(-90)" font-size="11.5" font-weight="bold" text-anchor="middle" fill="#000">Complex I activity (%)</text>
<path d="M603.2 876.9L603.2 873.7L654.8 873.7L654.8 876.9" fill="none" stroke="#1c1c1c" stroke-width="1.7"/>
<circle cx="629.4" cy="869.5" r="1.4" fill="#5a5a5a"/>
<path d="M603.2 888.6L603.2 885.4L628.1 885.4L628.1 888.6" fill="none" stroke="#1c1c1c" stroke-width="1.7"/>
<circle cx="616.1" cy="881.2" r="1.4" fill="#5a5a5a"/>
<text x="2.8" y="1082.5" font-size="11.8" font-weight="bold" text-anchor="start" fill="#000">O</text>
<line x1="71.05" y1="1153.5" x2="71.05" y2="1141.12" stroke="#1c1c1c" stroke-width="1.5"/>
<line x1="67.05" y1="1141.12" x2="75.05" y2="1141.12" stroke="#1c1c1c" stroke-width="1.9"/>
<rect x="62.9" y="1154.3" width="16.3" height="102.4" fill="#FFC07F" stroke="#1c1c1c" stroke-width="1.6"/>
<line x1="96.55" y1="1155.05" x2="96.55" y2="1150.4" stroke="#1c1c1c" stroke-width="1.5"/>
<line x1="92.55" y1="1150.4" x2="100.55" y2="1150.4" stroke="#1c1c1c" stroke-width="1.9"/>
<rect x="88.4" y="1155.85" width="16.3" height="100.85" fill="#C9DDF7" stroke="#1c1c1c" stroke-width="1.6"/>
<line x1="122.25" y1="1165.88" x2="122.25" y2="1159.69" stroke="#1c1c1c" stroke-width="1.5"/>
<line x1="118.25" y1="1159.69" x2="126.25" y2="1159.69" stroke="#1c1c1c" stroke-width="1.9"/>
<rect x="114.1" y="1166.68" width="16.3" height="90.02" fill="#8FBDF7" stroke="#1c1c1c" stroke-width="1.6"/>
<line x1="147.95" y1="1168.98" x2="147.95" y2="1165.37" stroke="#1c1c1c" stroke-width="1.5"/>
<line x1="143.95" y1="1165.37" x2="151.95" y2="1165.37" stroke="#1c1c1c" stroke-width="1.9"/>
<rect x="139.8" y="1169.78" width="16.3" height="86.92" fill="#549EFE" stroke="#1c1c1c" stroke-width="1.6"/>
<line x1="57.9" y1="1101.9" x2="57.9" y2="1257.6" stroke="#1c1c1c" stroke-width="1.8"/>
<line x1="57" y1="1256.7" x2="161.8" y2="1256.7" stroke="#1c1c1c" stroke-width="1.8"/>
<line x1="53.7" y1="1256.7" x2="57.9" y2="1256.7" stroke="#1c1c1c" stroke-width="1.5"/>
<text x="51.4" y="1260.03" font-size="9.8" font-weight="bold" text-anchor="end" fill="#000">0.0</text>
<line x1="53.7" y1="1205.1" x2="57.9" y2="1205.1" stroke="#1c1c1c" stroke-width="1.5"/>
<text x="51.4" y="1208.43" font-size="9.8" font-weight="bold" text-anchor="end" fill="#000">0.5</text>
<line x1="53.7" y1="1153.5" x2="57.9" y2="1153.5" stroke="#1c1c1c" stroke-width="1.5"/>
<text x="51.4" y="1156.83" font-size="9.8" font-weight="bold" text-anchor="end" fill="#000">1.0</text>
<line x1="53.7" y1="1101.9" x2="57.9" y2="1101.9" stroke="#1c1c1c" stroke-width="1.5"/>
<text x="51.4" y="1105.23" font-size="9.8" font-weight="bold" text-anchor="end" fill="#000">1.5</text>
<line x1="71.05" y1="1256.7" x2="71.05" y2="1260.9" stroke="#1c1c1c" stroke-width="1.5"/>
<text x="71.05" y="1272" font-size="10.5" font-weight="bold" text-anchor="middle" fill="#000">0</text>
<line x1="96.55" y1="1256.7" x2="96.55" y2="1260.9" stroke="#1c1c1c" stroke-width="1.5"/>
<text x="96.55" y="1272" font-size="10.5" font-weight="bold" text-anchor="middle" fill="#000">5</text>
<line x1="122.25" y1="1256.7" x2="122.25" y2="1260.9" stroke="#1c1c1c" stroke-width="1.5"/>
<text x="122.25" y="1272" font-size="10.5" font-weight="bold" text-anchor="middle" fill="#000">50</text>
<line x1="147.95" y1="1256.7" x2="147.95" y2="1260.9" stroke="#1c1c1c" stroke-width="1.5"/>
<text x="147.95" y="1272" font-size="10.5" font-weight="bold" text-anchor="middle" fill="#000">200</text>
<text x="109.2" y="1291" font-size="11.75" font-weight="bold" text-anchor="middle" fill="#000">DEHP (mg/kg/d)</text>
<text transform="translate(32.4,1180.4) rotate(-90)" font-size="11.5" font-weight="bold" text-anchor="middle" fill="#000">Complex II activity (%)</text>
<text x="184.8" y="1082.5" font-size="11.8" font-weight="bold" text-anchor="start" fill="#000">P</text>
<line x1="247.9" y1="1153.5" x2="247.9" y2="1141.63" stroke="#1c1c1c" stroke-width="1.5"/>
<line x1="243.9" y1="1141.63" x2="251.9" y2="1141.63" stroke="#1c1c1c" stroke-width="1.9"/>
<rect x="239.9" y="1154.3" width="16" height="102.4" fill="#FFC07F" stroke="#1c1c1c" stroke-width="1.6"/>
<line x1="273.4" y1="1155.05" x2="273.4" y2="1144.21" stroke="#1c1c1c" stroke-width="1.5"/>
<line x1="269.4" y1="1144.21" x2="277.4" y2="1144.21" stroke="#1c1c1c" stroke-width="1.9"/>
<rect x="265.4" y="1155.85" width="16" height="100.85" fill="#C9DDF7" stroke="#1c1c1c" stroke-width="1.6"/>
<line x1="299.1" y1="1140.6" x2="299.1" y2="1133.38" stroke="#1c1c1c" stroke-width="1.5"/>
<line x1="295.1" y1="1133.38" x2="303.1" y2="1133.38" stroke="#1c1c1c" stroke-width="1.9"/>
<rect x="291.1" y="1141.4" width="16" height="115.3" fill="#8FBDF7" stroke="#1c1c1c" stroke-width="1.6"/>
<line x1="324.5" y1="1133.38" x2="324.5" y2="1120.48" stroke="#1c1c1c" stroke-width="1.5"/>
<line x1="320.5" y1="1120.48" x2="328.5" y2="1120.48" stroke="#1c1c1c" stroke-width="1.9"/>
<rect x="316.5" y="1134.18" width="16" height="122.52" fill="#549EFE" stroke="#1c1c1c" stroke-width="1.6"/>
<line x1="234.9" y1="1101.9" x2="234.9" y2="1257.6" stroke="#1c1c1c" stroke-width="1.8"/>
<line x1="234" y1="1256.7" x2="338.5" y2="1256.7" stroke="#1c1c1c" stroke-width="1.8"/>
<line x1="230.7" y1="1256.7" x2="234.9" y2="1256.7" stroke="#1c1c1c" stroke-width="1.5"/>
<text x="228.4" y="1260.03" font-size="9.8" font-weight="bold" text-anchor="end" fill="#000">0.0</text>
<line x1="230.7" y1="1205.1" x2="234.9" y2="1205.1" stroke="#1c1c1c" stroke-width="1.5"/>
<text x="228.4" y="1208.43" font-size="9.8" font-weight="bold" text-anchor="end" fill="#000">0.5</text>
<line x1="230.7" y1="1153.5" x2="234.9" y2="1153.5" stroke="#1c1c1c" stroke-width="1.5"/>
<text x="228.4" y="1156.83" font-size="9.8" font-weight="bold" text-anchor="end" fill="#000">1.0</text>
<line x1="230.7" y1="1101.9" x2="234.9" y2="1101.9" stroke="#1c1c1c" stroke-width="1.5"/>
<text x="228.4" y="1105.23" font-size="9.8" font-weight="bold" text-anchor="end" fill="#000">1.5</text>
<line x1="247.9" y1="1256.7" x2="247.9" y2="1260.9" stroke="#1c1c1c" stroke-width="1.5"/>
<text x="247.9" y="1272" font-size="10.5" font-weight="bold" text-anchor="middle" fill="#000">0</text>
<line x1="273.4" y1="1256.7" x2="273.4" y2="1260.9" stroke="#1c1c1c" stroke-width="1.5"/>
<text x="273.4" y="1272" font-size="10.5" font-weight="bold" text-anchor="middle" fill="#000">5</text>
<line x1="299.1" y1="1256.7" x2="299.1" y2="1260.9" stroke="#1c1c1c" stroke-width="1.5"/>
<text x="299.1" y="1272" font-size="10.5" font-weight="bold" text-anchor="middle" fill="#000">50</text>
<line x1="324.5" y1="1256.7" x2="324.5" y2="1260.9" stroke="#1c1c1c" stroke-width="1.5"/>
<text x="324.5" y="1272" font-size="10.5" font-weight="bold" text-anchor="middle" fill="#000">200</text>
<text x="287" y="1291" font-size="11.75" font-weight="bold" text-anchor="middle" fill="#000">DEHP (mg/kg/d)</text>
<text transform="translate(209.3,1180.5) rotate(-90)" font-size="11.5" font-weight="bold" text-anchor="middle" fill="#000">Complex III activity (%)</text>
<text x="366" y="1083" font-size="11.8" font-weight="bold" text-anchor="start" fill="#000">Q</text>
<line x1="426.6" y1="1155.7" x2="426.6" y2="1136.92" stroke="#1c1c1c" stroke-width="1.5"/>
<line x1="422.6" y1="1136.92" x2="430.6" y2="1136.92" stroke="#1c1c1c" stroke-width="1.9"/>
<rect x="418.7" y="1156.5" width="15.8" height="100.7" fill="#FFC07F" stroke="#1c1c1c" stroke-width="1.6"/>
<line x1="452" y1="1189.7" x2="452" y2="1182.6" stroke="#1c1c1c" stroke-width="1.5"/>
<line x1="448" y1="1182.6" x2="456" y2="1182.6" stroke="#1c1c1c" stroke-width="1.9"/>
<rect x="444.1" y="1190.5" width="15.8" height="66.7" fill="#C9DDF7" stroke="#1c1c1c" stroke-width="1.6"/>
<line x1="477.5" y1="1185.13" x2="477.5" y2="1169.91" stroke="#1c1c1c" stroke-width="1.5"/>
<line x1="473.5" y1="1169.91" x2="481.5" y2="1169.91" stroke="#1c1c1c" stroke-width="1.9"/>
<rect x="469.6" y="1185.93" width="15.8" height="71.27" fill="#8FBDF7" stroke="#1c1c1c" stroke-width="1.6"/>
<line x1="502.7" y1="1197.82" x2="502.7" y2="1193.26" stroke="#1c1c1c" stroke-width="1.5"/>
<line x1="498.7" y1="1193.26" x2="506.7" y2="1193.26" stroke="#1c1c1c" stroke-width="1.9"/>
<rect x="494.8" y="1198.62" width="15.8" height="58.58" fill="#549EFE" stroke="#1c1c1c" stroke-width="1.6"/>
<line x1="413.7" y1="1104.95" x2="413.7" y2="1258.1" stroke="#1c1c1c" stroke-width="1.8"/>
<line x1="412.8" y1="1257.2" x2="516" y2="1257.2" stroke="#1c1c1c" stroke-width="1.8"/>
<line x1="409.5" y1="1257.2" x2="413.7" y2="1257.2" stroke="#1c1c1c" stroke-width="1.5"/>
<text x="407.2" y="1260.53" font-size="9.8" font-weight="bold" text-anchor="end" fill="#000">0.0</text>
<line x1="409.5" y1="1206.45" x2="413.7" y2="1206.45" stroke="#1c1c1c" stroke-width="1.5"/>
<text x="407.2" y="1209.78" font-size="9.8" font-weight="bold" text-anchor="end" fill="#000">0.5</text>
<line x1="409.5" y1="1155.7" x2="413.7" y2="1155.7" stroke="#1c1c1c" stroke-width="1.5"/>
<text x="407.2" y="1159.03" font-size="9.8" font-weight="bold" text-anchor="end" fill="#000">1.0</text>
<line x1="409.5" y1="1104.95" x2="413.7" y2="1104.95" stroke="#1c1c1c" stroke-width="1.5"/>
<text x="407.2" y="1108.28" font-size="9.8" font-weight="bold" text-anchor="end" fill="#000">1.5</text>
<line x1="426.6" y1="1257.2" x2="426.6" y2="1261.4" stroke="#1c1c1c" stroke-width="1.5"/>
<text x="426.6" y="1272" font-size="10.5" font-weight="bold" text-anchor="middle" fill="#000">0</text>
<line x1="452" y1="1257.2" x2="452" y2="1261.4" stroke="#1c1c1c" stroke-width="1.5"/>
<text x="452" y="1272" font-size="10.5" font-weight="bold" text-anchor="middle" fill="#000">5</text>
<line x1="477.5" y1="1257.2" x2="477.5" y2="1261.4" stroke="#1c1c1c" stroke-width="1.5"/>
<text x="477.5" y="1272" font-size="10.5" font-weight="bold" text-anchor="middle" fill="#000">50</text>
<line x1="502.7" y1="1257.2" x2="502.7" y2="1261.4" stroke="#1c1c1c" stroke-width="1.5"/>
<text x="502.7" y="1272" font-size="10.5" font-weight="bold" text-anchor="middle" fill="#000">200</text>
<text x="464.3" y="1291" font-size="11.75" font-weight="bold" text-anchor="middle" fill="#000">DEHP (mg/kg/d)</text>
<text transform="translate(386.3,1181.5) rotate(-90)" font-size="11.5" font-weight="bold" text-anchor="middle" fill="#000">Complex IV activity (%)</text>
<path d="M426.2 1105.7L426.2 1102.5L504.3 1102.5L504.3 1105.7" fill="none" stroke="#1c1c1c" stroke-width="1.7"/>
<circle cx="464.8" cy="1098.3" r="1.4" fill="#5a5a5a"/>
<text x="549.4" y="1082.5" font-size="11.8" font-weight="bold" text-anchor="start" fill="#000">R</text>
<line x1="603.9" y1="1154.4" x2="603.9" y2="1151.32" stroke="#1c1c1c" stroke-width="1.5"/>
<line x1="599.9" y1="1151.32" x2="607.9" y2="1151.32" stroke="#1c1c1c" stroke-width="1.9"/>
<rect x="595.9" y="1155.2" width="16" height="102" fill="#FFC07F" stroke="#1c1c1c" stroke-width="1.6"/>
<line x1="628.9" y1="1174.96" x2="628.9" y2="1172.9" stroke="#1c1c1c" stroke-width="1.5"/>
<line x1="624.9" y1="1172.9" x2="632.9" y2="1172.9" stroke="#1c1c1c" stroke-width="1.9"/>
<rect x="620.9" y="1175.76" width="16" height="81.44" fill="#C9DDF7" stroke="#1c1c1c" stroke-width="1.6"/>
<line x1="654.6" y1="1162.11" x2="654.6" y2="1161.6" stroke="#1c1c1c" stroke-width="1.5"/>
<line x1="650.6" y1="1161.6" x2="658.6" y2="1161.6" stroke="#1c1c1c" stroke-width="1.9"/>
<rect x="646.6" y="1162.91" width="16" height="94.29" fill="#8FBDF7" stroke="#1c1c1c" stroke-width="1.6"/>
<line x1="680.1" y1="1175.47" x2="680.1" y2="1170.85" stroke="#1c1c1c" stroke-width="1.5"/>
<line x1="676.1" y1="1170.85" x2="684.1" y2="1170.85" stroke="#1c1c1c" stroke-width="1.9"/>
<rect x="672.1" y="1176.27" width="16" height="80.93" fill="#549EFE" stroke="#1c1c1c" stroke-width="1.6"/>
<line x1="591.2" y1="1103" x2="591.2" y2="1258.1" stroke="#1c1c1c" stroke-width="1.8"/>
<line x1="590.3" y1="1257.2" x2="692.8" y2="1257.2" stroke="#1c1c1c" stroke-width="1.8"/>
<line x1="587" y1="1257.2" x2="591.2" y2="1257.2" stroke="#1c1c1c" stroke-width="1.5"/>
<text x="584.7" y="1260.53" font-size="9.8" font-weight="bold" text-anchor="end" fill="#000">0.0</text>
<line x1="587" y1="1205.8" x2="591.2" y2="1205.8" stroke="#1c1c1c" stroke-width="1.5"/>
<text x="584.7" y="1209.13" font-size="9.8" font-weight="bold" text-anchor="end" fill="#000">0.5</text>
<line x1="587" y1="1154.4" x2="591.2" y2="1154.4" stroke="#1c1c1c" stroke-width="1.5"/>
<text x="584.7" y="1157.73" font-size="9.8" font-weight="bold" text-anchor="end" fill="#000">1.0</text>
<line x1="587" y1="1103" x2="591.2" y2="1103" stroke="#1c1c1c" stroke-width="1.5"/>
<text x="584.7" y="1106.33" font-size="9.8" font-weight="bold" text-anchor="end" fill="#000">1.5</text>
<line x1="603.9" y1="1257.2" x2="603.9" y2="1261.4" stroke="#1c1c1c" stroke-width="1.5"/>
<text x="603.9" y="1272" font-size="10.5" font-weight="bold" text-anchor="middle" fill="#000">0</text>
<line x1="628.9" y1="1257.2" x2="628.9" y2="1261.4" stroke="#1c1c1c" stroke-width="1.5"/>
<text x="628.9" y="1272" font-size="10.5" font-weight="bold" text-anchor="middle" fill="#000">5</text>
<line x1="654.6" y1="1257.2" x2="654.6" y2="1261.4" stroke="#1c1c1c" stroke-width="1.5"/>
<text x="654.6" y="1272" font-size="10.5" font-weight="bold" text-anchor="middle" fill="#000">50</text>
<line x1="680.1" y1="1257.2" x2="680.1" y2="1261.4" stroke="#1c1c1c" stroke-width="1.5"/>
<text x="680.1" y="1272" font-size="10.5" font-weight="bold" text-anchor="middle" fill="#000">200</text>
<text x="642.4" y="1291" font-size="11.75" font-weight="bold" text-anchor="middle" fill="#000">DEHP (mg/kg/d)</text>
<text transform="translate(563,1181) rotate(-90)" font-size="11.5" font-weight="bold" text-anchor="middle" fill="#000">Complex V activity (%)</text>
<path d="M603.7 1105.7L603.7 1102.5L681.8 1102.5L681.8 1105.7" fill="none" stroke="#1c1c1c" stroke-width="1.7"/>
<circle cx="641.8" cy="1098.3" r="1.4" fill="#5a5a5a"/>
<path d="M603.7 1124.4L603.7 1121.2L629.4 1121.2L629.4 1124.4" fill="none" stroke="#1c1c1c" stroke-width="1.7"/>
<circle cx="616.9" cy="1117" r="1.4" fill="#5a5a5a"/>
</svg>
</body></html>
